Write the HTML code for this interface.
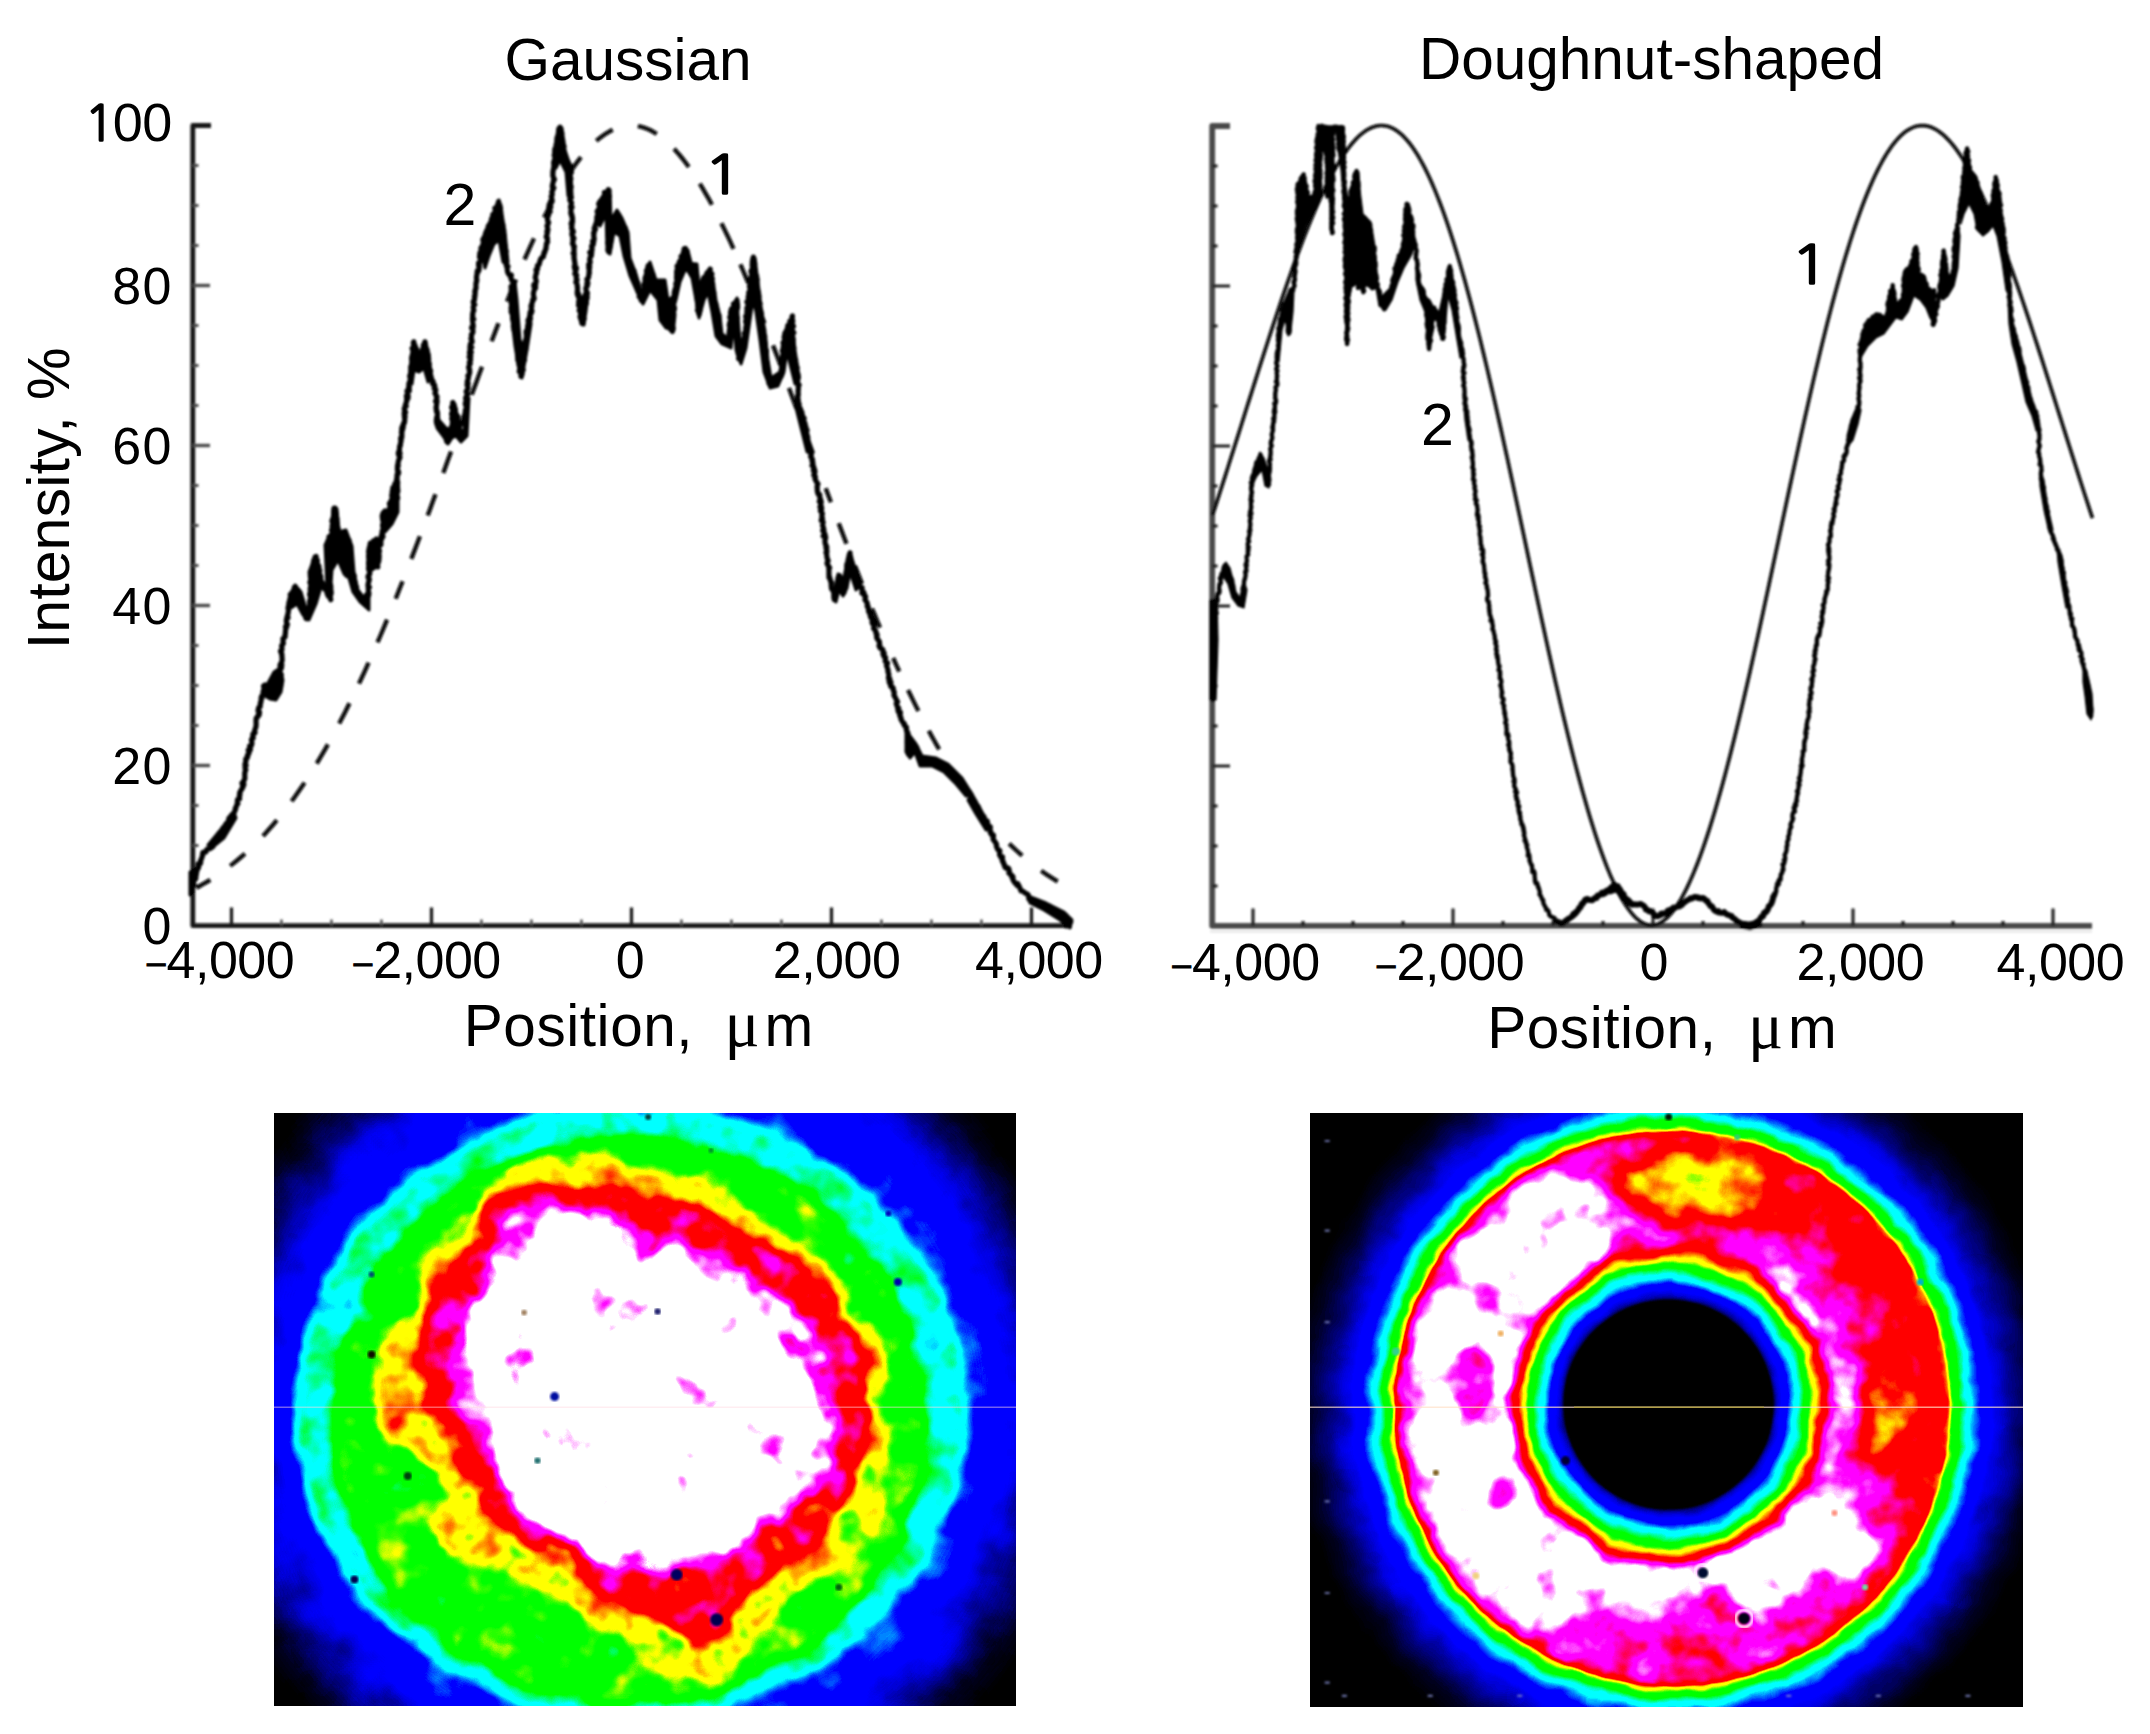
<!DOCTYPE html>
<html lang="en"><head><meta charset="utf-8"><title>Gaussian and doughnut-shaped beam profiles</title>
<style>html,body{margin:0;padding:0;background:#fff}body{width:2150px;height:1734px;overflow:hidden}svg{display:block}text{font-family:"Liberation Sans", sans-serif;fill:#000}text.sf{font-family:"Liberation Serif", "DejaVu Serif", serif}.ng{font-family:NanumGothic,"Liberation Sans",sans-serif}</style>
</head><body>
<svg width="2150" height="1734" viewBox="0 0 2150 1734" role="img" aria-label="Beam profiles: Gaussian and doughnut-shaped">
<defs>
<filter id="soft" x="-2%" y="-2%" width="104%" height="104%"><feGaussianBlur stdDeviation="0.85"/></filter>
<filter id="fcG" x="244" y="1083" width="802" height="653" color-interpolation-filters="sRGB" filterUnits="userSpaceOnUse">
<feGaussianBlur in="SourceGraphic" stdDeviation="5.5" result="g"/>
<feTurbulence type="fractalNoise" baseFrequency="0.024" numOctaves="3" seed="7" result="t"/>
<feColorMatrix in="t" type="matrix" values="1 0 0 0 0  1 0 0 0 0  1 0 0 0 0  0 0 0 0 1" result="n"/>
<feComposite in="g" in2="n" operator="arithmetic" k1="0.62" k2="0.75" k3="0" k4="0" result="v"/>
<feComponentTransfer in="v"><feFuncR type="table" tableValues="0 0 0 0 0 0 0 0 0 0 0 0 0 0 0 0 0 0 0 0 0 0 0 0.2 0.6 1 1 1 1 1 1 1 1 1 1 1 1 1 1 1 1 1 1 1 1 1 1 1 1 1 1"/><feFuncG type="table" tableValues="0 0 0 0 0 0 0 0 0 0 0 0.333 0.667 1 1 1 1 1 1 1 1 1 1 1 1 1 1 1 0.75 0.5 0.25 0 0 0 0 0 0 0 0 0 0 0 0 0.25 0.5 0.75 1 1 1 1 1"/><feFuncB type="table" tableValues="0 0 0 0.125 0.375 0.625 0.875 1 1 1 1 1 1 1 1 1 0.667 0.333 0 0 0 0 0 0 0 0 0 0 0 0 0 0 0 0 0 0 0 0.25 0.5 0.75 1 1 1 1 1 1 1 1 1 1 1"/></feComponentTransfer>
</filter>
<filter id="fcD" x="1280" y="1083" width="773" height="654" color-interpolation-filters="sRGB" filterUnits="userSpaceOnUse">
<feGaussianBlur in="SourceGraphic" stdDeviation="1.2" result="g"/>
<feTurbulence type="fractalNoise" baseFrequency="0.024" numOctaves="2" seed="11" result="t"/>
<feColorMatrix in="t" type="matrix" values="1 0 0 0 0  1 0 0 0 0  1 0 0 0 0  0 0 0 0 1" result="n"/>
<feComposite in="g" in2="n" operator="arithmetic" k1="0.1" k2="0.95" k3="0" k4="0" result="v"/>
<feComponentTransfer in="v"><feFuncR type="table" tableValues="0 0 0 0 0 0 0 0 0 0 0 0 0 0 0 0 0 0 0 0 0 0 0 0.2 0.6 1 1 1 1 1 1 1 1 1 1 1 1 1 1 1 1 1 1 1 1 1 1 1 1 1 1"/><feFuncG type="table" tableValues="0 0 0 0 0 0 0 0 0 0 0 0.333 0.667 1 1 1 1 1 1 1 1 1 1 1 1 1 1 1 0.75 0.5 0.25 0 0 0 0 0 0 0 0 0 0 0 0 0.25 0.5 0.75 1 1 1 1 1"/><feFuncB type="table" tableValues="0 0 0 0.125 0.375 0.625 0.875 1 1 1 1 1 1 1 1 1 0.667 0.333 0 0 0 0 0 0 0 0 0 0 0 0 0 0 0 0 0 0 0 0.25 0.5 0.75 1 1 1 1 1 1 1 1 1 1 1"/></feComponentTransfer>
</filter>
<filter id="nzD" x="1260" y="1063" width="813" height="694" color-interpolation-filters="sRGB" filterUnits="userSpaceOnUse">
<feGaussianBlur in="SourceGraphic" stdDeviation="1.5" result="g"/>
<feTurbulence type="fractalNoise" baseFrequency="0.03" numOctaves="3" seed="11" result="t"/>
<feColorMatrix in="t" type="matrix" values="1 0 0 0 0  1 0 0 0 0  1 0 0 0 0  0 0 0 0 1" result="n"/>
<feComposite in="g" in2="n" operator="arithmetic" k1="0.36" k2="0.82" k3="0" k4="0"/>
</filter>
<clipPath id="clipG"><rect x="274" y="1113" width="742" height="593"/></clipPath>
<clipPath id="clipD"><rect x="1310" y="1113" width="713" height="594"/></clipPath>
</defs>
<rect width="2150" height="1734" fill="#fff"/>
<g filter="url(#soft)">
<g stroke="#161616" fill="none" stroke-linecap="butt">
<path d="M211 125.5H192.8V925.7H1072" stroke-width="4.8" stroke-linejoin="round"/>
<path d="M192.5 285.5H210" stroke-width="3.4" stroke="#4a4a4a"/>
<path d="M192.5 445.5H210" stroke-width="3.4" stroke="#4a4a4a"/>
<path d="M192.5 605.5H210" stroke-width="3.4" stroke="#4a4a4a"/>
<path d="M192.5 765.5H210" stroke-width="3.4" stroke="#4a4a4a"/>
<path d="M192.5 885.5H198.5M192.5 845.5H198.5M192.5 805.5H198.5M192.5 725.5H198.5M192.5 685.5H198.5M192.5 645.5H198.5M192.5 565.5H198.5M192.5 525.5H198.5M192.5 485.5H198.5M192.5 405.5H198.5M192.5 365.5H198.5M192.5 325.5H198.5M192.5 245.5H198.5M192.5 205.5H198.5M192.5 165.5H198.5" stroke-width="3" stroke="#4a4a4a"/>
<path d="M231.5 925.5V907.5M431.5 925.5V907.5M631.5 925.5V907.5M831.5 925.5V907.5M1031.5 925.5V907.5" stroke-width="3.2"/>
<path d="M281.5 925.5V919.5M331.5 925.5V919.5M381.5 925.5V919.5M481.5 925.5V919.5M531.5 925.5V919.5M581.5 925.5V919.5M681.5 925.5V919.5M731.5 925.5V919.5M781.5 925.5V919.5M881.5 925.5V919.5M931.5 925.5V919.5M981.5 925.5V919.5" stroke-width="2.6" stroke="#555"/>
</g>
<path d="M196.4 887.8 L199.2 886.3 L202 884.7 L204.7 883.1 L207.5 881.5 L210.3 879.8M230.2 865.9 L233.1 863.6 L236.1 861.2 L239 858.8 L242 856.3 L244.9 853.7M263 835.9 L265.8 832.9 L268.6 829.8 L271.3 826.7 L274.1 823.5 L276.9 820.1M291.6 801.3 L294.2 797.7 L296.8 794 L299.4 790.3 L302 786.5 L304.6 782.6M316.7 763.5 L319.5 758.9 L322.3 754.1 L325.1 749.3 L327.9 744.4M339.2 723.6 L341.8 718.6 L344.4 713.6 L346.9 708.5 L349.5 703.3M359 683.6 L362.2 676.8 L365.4 669.8 L368.6 662.7M377.5 642.4 L380.7 635 L383.9 627.4 L387.1 619.7M395.7 598.7 L399.1 590 L402.6 581.3M411.3 558.9 L414.2 551.4 L417 543.9 L419.9 536.3M427.7 515.4 L430.3 508.4 L432.9 501.3 L435.5 494.3M443.3 472.9 L445.9 465.8 L448.5 458.6 L451.1 451.4M457.5 433.8 L460 426.9 L462.5 420 L465 413.1M471.7 394.7 L474.3 387.7 L476.9 380.7 L479.4 373.7 L482 366.8M491.6 341.2 L495.1 332.1 L498.5 323.2M507 301.6 L510 294.1 L513 286.8 L516 279.5M524.5 259.5 L527.7 252.3 L530.8 245.3 L534 238.4M544 217.6 L547 211.8 L550 206 L553 200.4M570.3 171.8 L573 167.9 L575.6 164.2 L578.3 160.6 L581 157.2M596.3 140.9 L599 138.6 L601.8 136.5 L604.5 134.5 L607.2 132.8 L610 131.2 L612.7 129.8M637.8 126.1 L640.5 126.7 L643.2 127.4 L645.9 128.3 L648.7 129.5 L651.4 130.8 L654.1 132.3 L656.8 133.9M674.1 148.8 L677 152.1 L680 155.5 L682.9 159.1 L685.9 163 L688.8 167M699.8 183.6 L702.8 188.6 L705.8 193.8 L708.9 199.2 L711.9 204.7M721.4 223.2 L724.4 229.4 L727.5 235.7 L730.5 242.2 L733.5 248.8M740.4 264.4 L743 270.5 L745.6 276.6 L748.2 282.8M757 304.3 L759.5 310.6 L762 316.9 L764.5 323.3M773 345.4 L775.5 351.9 L778 358.6 L780.5 365.2M789 388.1 L791.5 394.9 L794 401.7 L796.5 408.5M806 434.4 L809.5 444 L813 453.6M825.7 488.3 L828.3 495.3 L830.9 502.3M838.7 523.2 L841.3 530.1 L843.9 537 L846.5 543.8M855 565.9 L858.5 574.8 L862 583.7M872 608.5 L874.7 614.9 L877.3 621.3 L880 627.7M893.2 658 L896.2 664.8 L899.3 671.5M908 690 L910.6 695.3 L913.2 700.6 L915.8 705.9 L918.4 711M928.8 730.8 L931.4 735.6 L934 740.3 L936.6 744.9 L939.2 749.4M950 767.4 L952.8 771.8 L955.5 776.1 L958.2 780.3 L961 784.4M970 797.3 L972.8 801.1 L975.5 804.8 L978.2 808.4 L981 811.9M1009.2 843.6 L1011.8 846.2 L1014.4 848.6 L1017 851 L1019.6 853.4 L1022.2 855.7M1041.2 870.7 L1044 872.7 L1046.7 874.6 L1049.5 876.4 L1052.2 878.2 L1055 879.9 L1057.7 881.5" fill="none" stroke="#0a0a0a" stroke-width="4.4" stroke-linecap="butt"/>
<polyline points="192.1,889 192,887.5 192.7,886 193.7,882.3 192.8,883.4 193.7,879.5 195.8,878.7 195.8,877 195.8,874.1 196.3,875 196.4,872 197,871.3 197.9,867.2 198.6,867.6 198.2,863.9 200,863.9 200.2,863.8 200.7,862.4 200.6,860.4 201.3,859.2 202.8,854.6 202.5,854.5 202.9,852.3 205.9,851.9 206.4,850.2 207.4,849.2 208.2,848.8 209.9,848.7 211.4,847.6 212.9,846.6 213.8,842.4 214.6,842.4 216.4,842.6 217.4,839.7 218,836.9 219.3,836.7 219.1,833.4 221.3,835.2 221.5,832 221.5,831.7 223,828 223.6,828.9 225.8,824.9 226.1,823.6 227.2,823.2 228.4,824.2 228.4,822.9 228.9,818.3 230.4,816.7 230.4,816.7 232.1,814.5 231.7,815.7 233.6,813 233.8,813.1 235.6,809.4 235.2,808.4 236.1,807.1 236.5,805.6 237.9,803.6 237.3,802.8 237.5,799.7 239.6,798.9 239.3,795.5 239.7,795.7 240,794.4 239.6,793 241.4,789.4 241.9,789.3 242.5,787.3 243,787.1 242,783.1 243.9,784.8 243.4,781.4 244.6,779.3 244.9,778.4 244.7,776 244.8,775.3 244.7,772.8 245.8,769.8 245.4,770.6 245,767 246.1,765.3 244.9,764.3 246,761.4 245.7,761.1 245.8,758.9 247.4,757.7 248,755.1 247.4,755.3 249.1,753 248.2,750.2 249.3,748.8 250.4,749.6 249.6,746 251.4,745.7 252,743 251.8,742 251.4,739.7 253.2,738 252.5,737 253.1,735.3 254.5,732.8 252.9,734.1 255.1,732.7 254.5,731 255.9,726.7 255.9,727.4 256.1,724.7 256.1,723 256,720.8 256.2,718.2 257.4,717.3 258.2,714.8 258.8,715.5 259.2,714.6 259.5,711.9 258,710.8 258.7,707.6 260.1,706.8 259.9,706.6 260.7,702.8 260.3,703.1 261.1,701.2 261.2,697.4 262,698 261.6,696.3 263.5,694.7 263,692 264.2,688.5 264.3,689.8 263.5,685.9 265,685 265.3,686.6 266.3,687.9 267.8,687.7 268,691 268,691.2 269.2,692.4 272,696.8 272,697 271.6,695.3 272.6,693 273.2,692.5 274.2,689.8 273.8,688.1 275,687 274.1,685.6 275.3,683.3 273.9,681 274.5,680.9 275.3,678.4 275.3,677.7 274.4,675.2 274.5,674 274.9,676.4 275.2,678 275.7,678.1 276.2,681.4 275.7,682.1 277,684 278.1,687.4 279.5,688 280.6,685.8 280.7,685.6 279.5,682.7 279.4,682.3 280.7,680.8 281.2,678.3 280.7,676 281.3,674.6 279.9,673.1 279.8,669.8 281.5,667.9 280.1,666.4 281.8,665.1 280,665.9 280.3,664.2 281.5,662.6 282.2,660 281.9,656.5 281.9,656.5 281.8,653.5 281.9,654.8 280.5,651 281.5,650 282,649.6 281.6,645.6 282,645.6 283.4,643.2 282.9,641.6 283.2,640.1 282.9,638.7 285.2,636.8 285,634.3 285.2,634.8 285.5,632.4 285.4,631.2 285.8,629.1 286.9,626.2 285.4,626.8 287.4,624.3 286.6,623.4 286.3,620.2 286.6,619.7 287,616.8 288.1,617.8 287.5,615.3 287.9,614.2 288.5,610.5 288,608 288.8,607.7 288.4,606 289.3,604.9 289.1,604.2 288.8,603.2 289.7,600.1 289.8,599.2 290.7,596.4 290.2,594.5 291.2,593.7 293.1,591 293.8,591.5 294.3,587.3 295.4,586.7 295.6,589.1 297.3,591.6 298.4,590.6 297.7,592.3 298.4,595.5 300.6,597.8 300.6,598 300.5,600.9 301.1,600.9 302.5,601.3 301.6,605.6 302.5,605.5 303.5,608.2 302.8,608.6 304.2,610.7 304.1,612.7 306.2,613.6 305.8,614.2 305.7,617.8 306.6,618.8 306.1,618.5 308.1,613.9 308.5,613.2 308.4,612.9 307.7,610.9 308.8,609.6 308.3,607.8 310.1,605.7 309.5,602 309.7,601.2 310,600 310.5,599 310.3,595.5 310.5,595.5 309.6,594.7 310.7,590.3 311.3,588.7 310.1,589.1 310.7,586.9 310.9,584.8 310.3,582.2 309.8,582.4 311.3,580.2 311.4,577.8 310.4,576.2 311,575 312.3,571.7 311.9,570.7 313,569.4 312.5,567.9 313.4,567.6 313.5,566.2 313.4,562.4 313.8,560.2 315.8,560.7 315,557.1 316.1,556.5 316.2,559 317.4,560.6 317.2,560 317.1,561.8 317.7,564.8 317.3,565.2 318.9,566.1 319.2,570.8 319.8,570.5 319.3,572.9 319.8,575.9 320.2,575.1 320.9,577.3 320.4,579 321.4,581.2 320.8,582.8 322.9,583.3 323.4,584.6 323.4,586.3 324.8,587.6 324.6,589.1 326.6,590.4 327.2,593.8 328.6,592.3 329.2,595.6 328.3,596.2 329.5,596.7 330.8,599.7 330.8,599.6 330.2,597.7 330.9,593.4 331.2,593.5 331.2,592.2 330.7,589.2 330.8,589.7 330.8,586.3 330.5,584.8 329,581.6 328.8,580.5 328.9,579.9 329.9,578.4 329.2,577.1 328.9,574.8 329.8,572.9 328.4,573.1 329,570 329.4,567.9 328.6,566.9 329,564.2 327.7,562.5 329.3,560.7 328.6,559.2 328,557.5 328.3,555.9 327.5,554.1 327.7,553.9 327.4,550.6 328.2,550.3 328.7,547.4 328,547.1 327.1,547.5 327.5,542.8 328,541.4 328,541 329.2,539.1 329,536.7 331.3,536.2 331.7,535.7 332.5,533.9 332.9,531.7 331.6,530 333,529.6 332.1,526.1 333,527.6 333,522.5 331.9,521.2 332.4,519.4 332.3,520 334.2,516.7 334.6,516.1 334.3,516 334.8,511.2 333.6,511.6 335.1,508.1 334.3,508 334.1,510.9 334,510.9 334.7,513.5 336.2,513.3 336.1,517 336.5,518 337,518.9 336.1,520.1 337.2,522.6 336.3,523.1 337.6,526.3 337.8,527.1 337.6,527.9 338.3,529.1 338,533.4 338.7,532.6 338.6,535.7 340.1,536.4 343,535.9 344.7,534 346.2,535.4 346.9,537.9 346.3,538.1 346.4,539.8 349,540.2 348.8,541.8 348.5,545.3 349.5,544.6 350.7,547.8 349.7,549.9 350.4,549.3 349.5,554.4 349.2,554.5 349.4,557 349.6,558.6 349.3,558.1 348.3,559.3 349.4,561.1 347.5,565.8 347.7,567.1 347.2,567.2 347.3,570.2 347.9,571.1 348,573.6 346.9,574.2 347,575.5 348.5,573.7 350.9,575 352.4,573.2 353.3,573.8 353.6,575.4 354.3,575.7 353.7,578.9 353.4,580.9 355.1,582.2 355.2,584.6 354.5,585.4 356.5,587 355.5,587.9 355.9,591.1 356.3,591.5 358.9,595 359.8,597.5 360.3,598.9 361.1,598.9 362.5,597.6 364.7,598.3 366,595.8 366.9,594.5 368.7,595.3 368.9,592.8 368.5,592.7 368.2,588.1 369.4,587.2 368.9,586.8 367.9,585.6 368.4,582.8 368.6,582.3 369.4,579.1 368,577.5 368.7,575.1 368.2,575.9 369.3,575.1 369.9,573.1 368.6,568.9 368.5,568.4 368.9,566.9 369,565.5 368.7,565 368.6,562 370,561.6 368.8,558 370,555.5 368.6,555.8 369.5,552.9 368.6,551.4 370.2,550.8 370.7,550.3 370.8,546 369.8,546.1 370.3,543.2 372,543.2 372.3,542.8 373.5,540.8 375,541.4 376.7,539.2 376.6,540 375.8,542.2 377.1,544.7 377.8,546.8 376.4,546 377.5,550 377,551.8 377.2,551.4 376.4,552.1 377.5,556.9 378.1,557 377.6,560.3 378,560.8 377.2,562.1 376.7,562.5 377.8,567 377.5,566.9 377.7,565 377.5,563.5 378.6,561.9 379,559.3 377.8,559 378.1,558.6 379.2,557.3 378.9,552.4 378.9,552.7 378.9,550.1 379.5,550.8 378.3,548.3 379.3,546.1 379.4,544.6 380.9,544.6 380.8,540.3 381.8,538.7 381,539.4 381.2,535.8 383,536.7 382,533.1 382.3,530.6 382.7,532.1 383.6,528.8 382.6,526.1 382.8,523.8 383.5,524.5 384.1,522.3 384,518.4 382.7,520.1 382.2,515.8 383,514.1 383,513.2 385,511 386.3,513.7 388.8,511.5 388.4,511.3 388.8,510 390.2,507.1 389.4,503.4 391.1,502.2 390.2,502.9 392.1,498.5 392.6,498.6 391.7,495.4 392.1,497 392.2,492.2 392.3,490.6 393.1,491.8 392.8,487.6 395,488.8 395.5,484.5 394.8,483.8 394.7,487 395.1,487.8 394.9,486.9 395.2,491.2 396.3,492.1 395.8,493.7 395.9,495.3 397,495.7 396.6,499.9 396.6,500 397.4,497.2 397.7,497.9 396,494.2 396.2,491.7 397.9,491.4 397.7,488.6 395.9,489.7 397.6,488.5 397.5,485.1 397.7,481.9 397.2,481.5 396.4,480.4 396.9,478.4 397,476.1 397,475.4 397.4,473.4 398.6,473.3 398.5,471.3 397.4,470.2 397.5,465.5 398.2,466.1 398,464.1 398,463.7 398.5,460.3 398.8,460.1 400,457.2 399,455.9 398.3,453.6 400.1,453.2 398.6,451.9 399.4,450.7 399.6,446.3 400,445.7 400.4,445.5 400.4,443.8 401.2,440.4 400.6,439.3 401,437.2 401.8,437.5 401.9,433.2 401.4,432.4 402.5,430 401.6,429.1 402.3,426.4 403.1,428 403.3,425.8 403.5,423.3 404.4,422.9 404.8,419.9 404.5,417.1 405.1,416.5 404.4,416.7 404.2,412.6 405.6,412.5 404.2,408.8 405,407.1 406.2,406.2 405.2,405.3 405.9,403.9 406.1,402.5 406.7,401.5 406.6,397.8 408.1,398.4 406.4,395.9 408.2,396.2 407,391.1 408.2,391 409.4,390.8 408.5,387.7 409.4,387.8 408.8,384.4 408.9,383.7 409.1,383.2 410.4,380 410.6,378.6 409.8,375.7 410.8,376.3 411.1,372.6 412.2,372.3 411.3,369 411,369.8 410.8,366.8 412,364.5 412.4,364.9 412.8,362.6 411.5,358.5 412.1,357.7 411.7,358.1 411.9,356.2 413.6,352.1 413.7,351.4 412.4,349 412.1,348.4 413,348 414.1,343.5 413.3,343.1 413.7,341.8 413.5,342.5 414.2,345.7 414.9,345.2 415.1,348 416.4,348.8 417.2,350.3 417.6,353.3 417.1,355.4 418,356.3 419,358.2 419.2,357.7 419.8,360.9 420.9,360.6 420.6,358 420.6,357.6 421.9,353.5 422.7,354.7 422.1,353.1 422.8,348.6 423.7,347.6 424.2,346.9 423.3,345.1 425.3,343.3 425,341.8 425.4,344.7 425.5,344.9 426,347.7 425.5,346.7 427,349.9 426.3,352.7 427.8,353.1 428.4,355.7 428.1,355.3 426.8,358.3 428.7,358.7 428.4,361.1 428.2,363.1 429.2,363.6 428.5,365.8 429.2,368 429.2,368.4 429.5,370 430.6,370.5 429.8,373.5 430.4,375.2 430.6,375.3 431.7,379.8 431.9,379.9 433.1,381.5 432.5,381.5 432.6,384 434.5,384.8 434.9,387.7 434.2,388.5 435.8,389.8 435.3,392.6 434.9,393.1 437,396.8 436.4,397.3 437,400.4 435.6,401.3 437.1,401.2 436.5,405.5 436.3,406.4 436,407.7 436.2,408.7 436.5,411.7 437.4,412 437.3,413.3 437.6,414.4 437.1,417.2 436.8,416.9 436.3,420.6 436.5,422.7 437.2,425 437.2,425 439.4,427 439.8,425.7 441.7,429.3 443.9,428.5 443.7,432.5 445.9,431.9 446.7,433.6 447,434.1 446.8,437.7 447.3,437.6 446.5,441 447.6,442.3 449,439.5 447.8,437.8 450.1,437.4 450,438.1 450.9,434 451.7,431.6 451.9,431.9 451.5,431 451.3,427 452.1,426.4 453.1,423.9 452.8,423.3 452.9,421.9 452.6,419.8 451.7,418.7 453,416.6 451.8,415.3 451.6,413.3 452.7,412.5 452.8,409.9 451.6,407.3 452.3,406.3 452.8,404.9 453.3,404.5 452.8,402.5 453.7,405.1 453.8,405.7 453.9,406.1 455.4,409.4 454.4,412.7 456,413.3 456.3,414.6 456.5,414.9 458,416.6 456.9,421.2 456.7,421 457.8,421.7 459.1,423.9 457.4,425.8 457.7,428.2 459.9,430.5 458.4,431.3 459.3,432.2 459.6,433.2 459.5,435.9 460.6,437.1 460.6,437.4 461.3,436 462.5,431.5 464.6,431.7 464.9,430.2 465.6,428.6 465.4,425.4 465.5,425.3 466.2,421.8 464.4,422.6 466.3,420 466,418.9 465.3,416.9 465.9,413.7 465.3,414.6 465.3,412 465.4,409.9 466.3,409.7 467.1,407.1 465.5,404.9 465.3,402.9 466.5,402.6 465.9,399.4 465.6,397.8 466.6,397.3 466.8,394.8 467.7,394.3 466.7,392.1 466.2,391.6 467.9,388.6 468,386.7 467,384.9 467.1,384.6 468.2,383.4 467.2,381.9 468.2,378.9 468.4,377.4 467.9,375.7 469,375.2 469.7,371.7 469.8,372.2 469.1,369.5 469.7,369.6 468.6,367.2 470.3,363.2 469.8,364.5 469.3,362.5 470.7,359.4 469.2,356.9 470.8,356 469.8,354.5 471.3,352.1 469.4,353 470.2,349.3 471.7,347.3 469.9,347.8 470.4,343.8 472,342.2 472.1,340.9 470.9,338.8 471.5,338.4 471.4,336.6 471.7,334.9 471.4,334.5 472.9,332.5 472.8,328.4 471.7,327.2 471.6,328.3 473.3,326.5 472.7,322 472.5,320.1 473.7,319.2 472.5,320 472.4,318.3 472.8,315.7 472.5,314.9 473.2,311.3 473.9,310.5 473.1,307.2 474,305.2 474.7,304.7 473.3,303 473.3,301.3 474.3,300.3 474.6,298.3 474.4,296.3 474.9,296.4 475,294.7 475.3,290.7 474.8,291.7 475.7,288.3 476,288.4 475.9,285 476.1,282.1 476.6,282.1 476.7,280.4 476.9,279.7 476.5,279 476.5,276.9 476.9,275 477.3,270.8 478.1,271.9 478.9,270.4 479.4,265.7 478.6,265.7 478.6,262.7 479.8,262.3 480,261.9 480.9,259.8 480.9,257.7 479.5,257.3 479.9,252.8 481.8,251.9 481.7,249.3 481,250.2 481,247.8 483.2,245.1 483,245.4 483.1,243.8 483.6,239.5 482.8,239.8 483.8,238 485.5,235.4 485.4,233.6 486.6,233.2 486.6,232.4 486.5,231.1 488.6,230 488.2,226.2 488.6,227 489.9,223.7 490.7,222.5 491.3,221.6 491.5,218.7 493.1,218.7 492.7,214.6 494.6,215.3 494.5,212.6 495.9,211.1 494.9,208.3 495.8,208.5 496.4,208.1 497.6,204.7 498.2,203.7 498.5,201.7 499,203.3 499.1,204.9 500,205.4 500.2,207.4 500.6,208.3 500.1,211.2 500.8,212 500.1,213.3 501.1,216.5 500.1,216.7 500.8,221.2 501.6,221.4 501.5,223.3 502.9,225 501.5,225.8 502.8,227.6 502.9,227.6 503.7,230.3 502.8,233 503.6,234.2 504.3,236 503.4,236 504,238.7 504.1,240.3 503.1,240.8 503.6,242.7 505.2,246.1 504.1,248.2 505.1,247.6 505.5,249.8 506.2,251.2 504.8,253.2 506.2,256.9 505.7,256.2 505.5,259.8 504.9,262.2 506.7,263.9 506.6,264.5 506.3,265.7 508,266.4 507.1,267.5 507.5,271.5 507.9,272.9 509.2,274.9 510.6,275.8 511.4,275.1 510.8,277.8 511.8,280.5 513.4,282.3 513.2,283 514,285.3 512.7,286.3 513.4,289 512.5,289 512.9,290.1 513.4,291 512.8,294.3 511.7,296.3 512.2,299.3 513,299.6 512.8,302.3 511.2,303.7 512.5,305.9 512.3,305.4 511,307.9 511.5,309 511.1,311.6 512.2,313.5 511.9,313.2 513.4,316.2 512.5,317.5 512.8,319.4 513.3,319.8 514.5,323.6 514.3,323 513.3,326.3 514.9,327.7 513.9,329.6 514.8,330 515.2,331.9 515.5,334.6 516.5,334 515.9,338.6 516.3,338.9 517,338.6 517.1,342.4 516.7,343.6 517.1,344.6 517.4,345.5 517.4,347.6 518.5,351.3 517.7,352.7 517.7,353.5 517.5,356.4 519,357.7 517.7,359.5 517.8,360.2 519,360.1 519.1,364.7 519.8,364.3 520.4,366 520.8,367.8 519.2,371.5 519.4,370.6 521.2,371.7 520.9,376.1 521,376.4 521.4,374.2 522.1,374.3 521.9,372 521.6,369.6 523.3,370 521.4,365.6 522.2,366.1 522.4,362.2 523.9,360.6 524.6,360 524.6,359.7 523.4,357.9 524.1,354.3 523.6,354.4 524.9,351.3 525.8,349.3 525.3,348.8 525.4,345.7 525.3,347 525.9,342.7 525.5,342.9 525.7,342.2 525.5,340.5 526.9,338.7 526.5,334.4 526.3,334.8 526.1,331.3 528,332.5 528.3,330.7 527.8,329.3 527.9,326.3 528.7,324.9 528.4,321.3 528,320.5 529.1,318.4 530.5,318.5 530.4,318 529.6,316.3 531.5,312.5 530,312.8 532,311.1 531.3,308.8 531,305.8 531.9,306.1 531.6,305.1 531.8,303.6 533.1,300.3 532.7,299.8 534.2,298.6 533.6,296.1 533.5,294.9 533.3,293.4 534.5,288.8 535.5,288.1 533.8,286.3 533.9,284.7 535.6,285.6 535.6,283.5 536.3,281.3 535.5,278 535.2,277.4 535.5,276.4 536,274.2 536.7,272.8 536,269.8 537.4,268 537.6,269 537.4,265.7 537.9,265.9 539.1,264.4 539.6,262.3 540.7,258.8 541.1,258.8 541.7,257.6 543.4,256.7 543.9,252.9 544.4,253.2 545.6,249.5 544.7,251.6 546.1,248.4 545.9,247.5 546.5,244.7 546.3,243.7 547.6,241.9 547.3,239.5 547.3,238.9 547.5,238.2 546.2,236.9 547.5,232.7 547.3,230.5 546.9,231.5 548,229.9 547,225.6 547.6,225.3 548.4,223 548.6,222.3 547.7,221.4 547.4,219.1 547.8,215.4 548.5,215.5 548.7,213.8 549.2,211.7 550.2,211.6 548.8,207.2 550.8,207 549.2,204.5 550.7,202.9 550.3,203.1 550.5,201.4 552.1,200.3 551.7,198.1 551.2,196.5 552.2,194.7 552.2,193.7 551.8,191.9 553.8,187.8 553,187.9 552.5,188 552.3,185.7 553.4,181.4 553.6,179.5 554.2,179 554.4,179.4 552.8,176 552.9,175.6 552.9,171.5 553,172.7 553.3,169.1 553.9,168.3 553.9,168.1 553.8,164.7 555,162.3 553.6,162.7 554,161.3 555.2,157.8 554.2,155.2 555.4,154.7 554.7,153.3 554.7,150.5 554.8,151.4 554.9,148.6 556.3,146.9 556.3,144.8 556,144.7 557.8,142.2 556.8,141.8 557,137.5 558.2,138.2 558.4,134 559.6,132.6 558.6,133.9 559.9,131.5 558.7,130.2 559.9,127.3 560,127.2 561.1,132.1 559.7,132 561.9,133.2 560.8,136.4 561.4,138.8 562.6,140 562.5,139.2 562.8,142.2 562.6,143.8 562.5,144.1 564.1,146.3 562.6,150.1 563.8,150.7 563.7,150.4 564.3,153.3 564.5,156.1 565,157.9 565.7,159.4 566,159.3 566.5,159.8 567.9,162.1 568.6,163.1 568.7,165.1 570.6,165.7 570.3,168.8 570.1,171.7 570.5,171.2 571.4,172.3 569.5,173.6 570.2,178.2 569.8,177.8 570.9,178.7 569.3,182.4 569.4,183.6 569.5,185.5 571.1,186.6 569.8,188.8 570.7,188.4 569.7,191.2 570.3,192.4 570.6,194 570.3,196.5 571.3,197.6 569.9,198.2 569.8,200.3 571.6,202.7 570.7,206.3 572,207.2 570.5,207.2 571.2,208.6 571,210.1 570.8,213.6 571.7,214.1 571.6,216.4 572.1,215.9 572.6,219.1 571.6,222.5 572.6,221.9 571.1,223.8 572.1,225.2 571.5,227.6 572,229.9 572.7,229.8 573.4,232 571.9,233 572,235.2 573.9,238.6 573.5,237.4 572.7,239.2 573.1,242.4 572.4,243.5 573.4,245.7 574.4,246.4 573.8,248.4 574.1,249.2 574,252.1 573.2,253.3 574.3,253.7 573.9,257.6 574.2,256.9 574.2,259.7 574.6,260.7 574.6,261.8 575.1,264.8 574.3,266.4 574.9,269.4 576.4,267.9 576,270.3 574.8,273.8 576.7,275.1 576.2,277.4 576.2,277.9 576.5,280.2 577.1,279.8 575.8,282.2 576.8,283.2 577.5,286.5 577.2,287 577.4,287.4 577.7,288.8 577.2,291.7 578.3,293.8 577.2,293.8 578.2,296.4 578.7,296.7 579.3,299.4 578.6,302.2 579.2,302.7 578.8,304.4 578.5,305.2 580.5,306.3 579.2,310.6 580,311 580.8,313.3 580.4,315.1 580,317 580.9,317.8 581.2,319.8 581.6,320.9 581.8,323.3 582.4,323.7 583.2,321 583.4,322.1 582.5,317.8 584.2,319 582.7,316.7 584.6,313.2 584.5,311.8 584.7,310.9 584.3,307.9 584.9,308.4 584.3,304.5 584.1,303.6 586.3,303.8 586.3,302.2 584.8,299.3 586.8,299.4 587.1,297.7 586.7,295.8 587.4,293 586.7,291.7 585.9,289.4 586,287.6 587.4,285.9 586.8,283.7 587.2,283.5 587.9,283.4 586.9,279.3 587.1,280.1 588.5,277.4 589,273.4 589.4,273 589,271.6 589.4,269.6 588.6,267.7 589.7,266.8 588.6,264.8 589.7,263.2 589.9,263.3 590.2,261.5 589.6,260.1 590.2,257.1 591.4,255.6 589.8,252.3 591.6,253.5 591.8,250.5 591.7,247.5 592.2,249 591.6,246 593.3,244.5 592.5,241.3 593.6,242.2 594.2,238.6 594.2,238.4 593.7,236.6 594,233 593.5,233.2 595.4,229.1 594.2,228.4 594.8,228.3 595,226.1 596.1,223.6 596.3,222.5 597.3,220.7 596.8,219.9 596.9,216.6 598.3,217 597.7,214.5 598.1,212.2 597.2,211.5 599.3,208.3 599.7,207.6 600,207.5 598.7,203.9 600.3,205 599.7,201.7 601.3,200.7 601.7,200 603.3,198.9 603.1,197.5 605.5,195.2 604.4,192.5 606.8,192 608.3,191.5 608.4,189.6 608.8,190 608.5,193.6 609.3,196 607.9,196.2 609.5,196.3 607.5,198.3 608.9,200.4 608.9,203.9 609.1,202.7 608.9,207.1 608.9,208.9 609.1,209.7 609.3,211.1 607.6,211.8 609.4,213.6 608.4,217.2 608.9,218.5 608.4,219.1 607.6,219.7 607.8,222.5 608.6,222.5 608.8,224.2 608.3,225.6 608.5,227.7 609.5,230.1 609.2,232 608.2,235.1 608.1,235.6 608.9,238.9 609,237.2 608.5,242.1 609.3,241.6 607.8,242.9 609.1,244.2 609.4,246.1 609,249.3 608,250.3 608.6,251.9 609.1,249.4 609.1,249.1 610.3,246.2 608.8,245.4 609.9,243.7 610.9,241 610.2,240.4 609.8,238.7 610.5,236.8 611.5,237.3 612.1,232.9 611.1,233.9 610.7,229.2 610.8,230.7 612,227.2 611.4,227.1 613.5,224.8 612.7,222.5 614.5,221.3 614,218.4 614.9,216.9 615.9,215.1 616,216.7 617.9,213.8 619.4,216.5 619,216.8 620.1,219.6 620.3,220.1 621.6,222.9 621.8,221.4 622.7,226.2 622.9,226.8 623.5,227.1 625.3,228.1 625.7,231.1 625.7,233 625.7,235.3 626.8,235.2 626.7,238.5 626.4,239.6 626.5,241.7 626.9,241.7 626.9,244.9 626.6,247.2 626.4,247.5 627,249.3 626.3,251.2 626.3,252.3 627.1,254.6 628.1,257.2 627.4,257.1 627.4,260.1 628.6,260.3 628.3,263.1 629.3,262.6 630.1,264 630.7,265.8 631.9,267.6 633,271.2 634,270.8 634.1,273.7 634.3,274.4 635.2,275.7 634.5,278.6 635.9,278.7 636.4,279.3 637.1,283.9 637.9,282.7 637.7,286.7 637,287.7 637.5,288 637.6,289.8 639.8,292.5 640.1,295.5 639.2,296.7 641.2,297.6 640.4,297.5 641.2,300.3 641.4,298.3 641.3,297.8 642.4,294.7 641.8,294 643.2,293 643.4,292.3 644,289.1 644.3,288.3 643.7,284.9 644.1,285.4 645.2,282.3 645.1,279.9 645.5,279.7 646.2,279.6 645,278.4 645.6,276.8 647.7,272.6 646.5,270.7 648.1,271.3 648.6,270 647.6,268.3 648.2,265.7 648.5,266.7 649.3,269.6 649.7,270.6 650.9,273.1 651.3,273.3 652.1,275 653.1,275.3 652.5,276.6 653.7,281.1 654.7,281.9 655.1,283 657.8,284.2 658.1,282 660.3,282 662.2,281.5 663.7,283 663.5,285.5 663.2,285.1 664.3,287 664.6,290.2 664.6,291.6 663.8,292.3 662.9,296.4 663.2,295 664.8,298.3 664.1,301.4 664.4,300.7 663.5,303.8 664.3,303.9 663.4,306.7 663,309.4 664,310 664.8,310.4 665.1,313.7 664.4,314.7 666.4,316.5 666.7,317.4 667.7,320.6 667.2,319.9 667.2,321.5 668,325 669,325.5 669.6,327.6 670.5,329.1 672.4,331.5 672.5,328.5 672.7,329.8 673.1,328.2 671.9,325.5 672.3,324.9 672.9,322.4 673.6,318.7 672.3,319.5 673.9,316.5 672.3,313.4 674,314.1 673.2,312.4 674.2,308.4 674.2,310.2 674.5,308.3 673.7,305.6 673.1,304.6 674.4,301.6 674.1,300.3 673.3,297.5 674.3,298.5 674.6,296.7 674.2,292.9 674.5,291.4 675.8,290 675,289.5 675.5,288.6 676.2,286.8 675.8,283.6 676,284.1 677.3,280.9 676.5,277.5 677.5,277.8 676.7,274.6 677,274.9 676.7,271.6 677.4,270.8 677.6,269.2 677.1,266 678.5,266.8 679.1,262.7 679.4,261.7 681.2,260.2 682.2,258.8 681.1,256.3 682.4,256.5 683.6,255.4 683.7,251.6 685.1,250.7 684.2,248.8 685.4,248.4 686,250.5 685.8,250.7 685.5,253.5 687.4,253.3 686.8,257.2 688.2,256.5 689.2,260.2 689,260.3 689.9,262.3 689.6,265.9 689.7,265.7 692.4,264.5 692.8,264.7 695.5,265.7 694.8,268.7 695.8,268.8 695.6,270.5 695.8,273 695.9,275.1 696.9,276.7 696.8,275.8 696.2,279.9 696.2,280.5 696,283 696.4,283 697.5,283.6 695.9,286.4 697,286.9 697,290.9 698.1,293.1 698.1,291.6 697.2,294.6 696.6,297.4 697.3,299 698.3,298.8 697.7,301.1 697.4,301.1 698.1,303.5 697.8,307.1 699,307.4 697.5,310.3 698.2,309.5 699.3,314 698.9,314.2 698.5,312.7 700,311 699,308 698.4,309 700.3,304.8 700,303.2 700.4,302.3 700.4,301.2 699.2,299.7 700.6,296.1 699.4,295.3 701,296.2 700.6,294.1 701.3,290.4 700.8,290.8 701.1,287.9 701.7,285 701.3,284.7 701.5,283 702.5,282.3 702.7,280.1 704,277.4 705.6,279.1 706,275.8 706.4,274.6 707.3,272.5 709.4,271.5 708.7,271.2 710.2,269.2 709.3,270.3 710.7,273.6 710.3,272.5 711.9,274 710.9,277.4 712.3,278.5 710.9,279.9 711.4,281 712.7,284 712.5,284.8 712.5,288.7 711.8,290.5 712.1,291.3 713.7,292 713.8,293.4 712.9,296.9 713.5,295.4 712.7,298.8 713.6,300.3 713.7,300.3 715.2,302.8 715.9,304.5 714.8,306.3 716.7,309.6 716.6,308.8 717,310.5 717.1,311.1 716.8,316 718.9,315.1 718.8,317.6 718.9,317.7 719.1,321.5 718.7,322.5 717.9,325.7 717.5,324.7 716.8,329.5 717,328.2 717.4,330.1 717.1,333.2 718.3,335.3 719.2,335.2 722.1,338 723.3,336.2 724.8,339.2 724.4,341.9 725.7,343 726.8,340.9 729.2,343.6 729.2,342.3 729.6,341.5 728.6,339.5 729.2,338.7 729.9,336.1 728.9,335.2 729.3,331 729.7,331.5 729.6,328.7 730.3,326.2 729.3,325.2 730.7,324.5 729.7,322.8 731.1,321.3 729.8,317.3 731.6,318 730.2,316.5 730.9,314.5 730.5,313 730.9,310.7 731.5,308.8 732.3,308.6 734.3,305.5 733.5,303.9 735.8,302.8 735.1,303 737,300.3 736.8,300.4 737.4,303.6 737.6,306.4 737.5,308.2 736.5,309.6 736.7,310.7 736.1,312.2 735.7,314.7 735.9,315.3 737.3,317.9 737.2,318.1 735.5,321.8 736,323 736.1,323.1 736.4,325.1 736.8,326.9 735.5,328.3 735.3,331.1 736.1,331.5 735.6,332.6 736.7,334.2 737.6,337.4 736.6,337.7 737.6,339.7 737.6,340.7 737.7,343.2 738.6,344 738.6,345.1 737.7,346.8 739.3,347.9 738.1,350.9 739.2,353.2 738.2,353.8 739.7,354.6 738.6,358.6 739.6,359.1 738.9,356 739.6,357.1 740.3,354 741.1,354.1 740.3,349.9 741.5,349.9 741.2,347.6 742.5,344.6 742.4,343 744,341.2 742.7,341.8 743.2,340 743.8,339.9 744.6,336 744.8,334.9 744.3,333.2 745.7,332.4 745.7,330 746.4,327.9 745.7,328.3 746.4,324.9 746.6,324.3 745.6,321.4 746.8,319.6 746.1,318.6 745.7,315.9 747.8,314.2 747.6,311.7 746.7,311.9 746.8,311.8 748.4,307.8 746.8,308.4 748.4,305.3 746.9,301.8 748.4,302.6 748.2,300.3 748.3,298.1 748.2,296.6 748.7,295.8 748.9,293.2 748.7,292.8 750.5,289.5 750.3,289.5 749.4,286 750.9,284.5 749.6,282.6 751.3,282.1 749.7,280.1 751.1,279.2 750.5,278.9 751.9,275.2 751.7,274.4 751.5,271.8 751,271.3 751.7,269.8 753.1,266.8 752.1,265.3 752.7,262.4 752.7,261.6 752.2,261.8 753.7,258.8 753.4,257.1 752.7,259.5 753.6,261.7 754.4,261 754.8,263.9 754.2,266.3 754.3,265.5 753.9,268.8 754.7,268.8 754.4,272.7 755.1,274.6 756.7,276.1 755.4,278.1 756.5,279.4 757.3,279.1 756.4,282.8 756.9,283 756.6,283.2 756.2,286.5 757,289.5 756.5,289.1 758.2,291.5 758.6,293.3 758.8,296.1 759,296.4 758.1,297.7 757.9,298.4 758.7,300.7 758.6,301 760.1,303.5 759.1,305.2 759.5,308.4 759.5,309 760.7,311 761,311.8 760.2,313.3 761.6,314.1 760.2,318.1 760.5,317.1 761.1,320.2 761.6,321 761.6,322.8 761.5,325.2 761.9,325.7 763.7,329.8 762.7,330.1 762.4,329.9 763.6,334.9 763.8,334.9 763.1,336.4 764.8,336.4 764.5,338.9 765,342.6 765.4,344 763.9,345.2 765.1,345.6 764.5,347.8 765.1,349.2 766.4,350.2 766.4,351.5 766.2,354.2 765.7,355.9 765.3,356.6 766,358.2 766.4,360.9 767.3,363.2 767.1,364.8 766.2,364 766.2,368.7 767.3,370.6 767.1,370.1 768,373.4 767.7,373.7 767.8,374.4 769.1,378.4 768.3,377.3 769.4,380.1 769.3,381.5 769,383.4 769.6,383.4 771.2,383.2 772.8,380.2 774,378.9 776.9,377.6 777.2,376.6 778.5,377.3 781.1,376.4 780.6,375.7 781.8,373.2 782.4,373.3 781.2,371 782.2,367.3 782.5,365.2 782.4,366.7 782.5,364.3 782.7,361.7 781.6,360 782.2,360 783.5,358.9 782.5,357.1 783.9,352.3 783.2,351 782.3,350.7 783.8,348.1 783.1,347.6 783.8,344.7 783.1,342.7 783.5,344.6 783.4,342.2 784.5,341 785,336.5 784.1,337.7 784.6,334.9 785.6,334.6 784.9,333 786.3,331.2 787.4,328 787.9,325.3 789.4,326.7 789.5,324.3 790.3,322 789.9,321.2 792.1,320.4 792.4,316.3 792.4,315.9 792,316.8 792.6,320.6 792.8,321.2 792.4,321.3 792.1,325.9 793.5,326.3 793.1,326.5 791.7,327.4 791.7,329.7 793.8,332.7 792.2,332.6 791.8,333.9 792.1,336.8 792.2,338 793.2,339.3 792.2,343.3 792.5,344.4 792.6,346.3 792,346.4 793.9,348.2 793.5,349.5 793.2,352.2 792.7,353.6 793.8,353.8 794.2,356.8 794.2,359.6 795.7,360 794.7,362.9 796,363.6 796,364.6 796.6,367.1 797.2,367.7 795.8,371.4 797.3,372.8 798,374.3 797.4,376.3 798.3,376.2 798.4,378.2 797.6,378.4 797.6,380.8 797.8,383.5 799.1,384.9 798.3,384.5 798.3,388 798.4,389 798,391.2 798.2,392.5 798.2,395.7 797.5,396 797.8,397.6 798.3,400.7 797.2,400.8 797.8,403.1 797.5,405.5 799.1,403.9 798.4,408.5 800.6,409.3 800.3,409.5 801.1,413.5 801.9,412 801.6,413.8 803.6,418.1 804.2,418.2 803.5,418.5 803.9,421.1 805,423.3 805,424.4 806.1,427.9 805.6,429.3 805.7,429 807.1,430 805.8,434.9 807,434.4 807.9,437.8 807.3,439.1 807.1,441 808,440.9 807.4,441.3 808.5,443.1 809.4,448 808.9,448.7 809.8,449.9 810.5,451 810.2,452.7 811.3,453.1 811.3,456 810.6,456.6 812.6,459.6 811.9,460.8 813,462.9 812,465.6 813.7,466.6 813.8,467.8 813.3,470.6 814.5,469.2 815,471.8 813.8,475.1 814.5,475 815.4,476.9 814.9,478.6 816.1,481.2 817.4,483.1 817.1,482.9 818,483.9 817,486.7 817.4,488.3 817.2,488.7 817.3,491 818.1,494 818.5,493.3 819.8,494.9 819.7,497.6 820.6,499.3 819.3,501.6 821.3,501.8 820.6,504.3 821.6,507.5 819.9,507 821.7,508.8 821.2,510.9 820.3,510.7 822.4,513.6 821.7,515.8 822.5,518.7 821.3,519.4 821.3,520.7 823.2,522.1 822.4,525.1 823.3,527 823.1,527.1 823.4,528 824,530.3 822.7,530.6 825,534.1 823.2,536.1 825,535.2 825.7,537.3 824.9,540.8 825,541.1 825.2,543.8 826.5,546.3 826.8,547.6 825.9,547.6 827,551.3 826,552.4 826.6,553 826.5,553 827,557.7 827.3,559 828.2,560.6 827.3,562.6 827,562.8 827.2,564 829.2,567.1 829.6,567.8 828.8,568 829,572.3 828.9,573.8 829,575.2 829,577.4 829.1,575.9 830.1,579 830.6,581.6 831.2,581.8 831.6,582.7 831.1,584.6 831.2,585.3 831.5,588.7 832.6,589.6 833,591.1 833.7,591.6 834,596.4 833.9,597 835.1,596.8 834.4,599.7 833.9,598.1 835.6,596.6 835.4,594.6 835.7,594.6 835.2,592.2 835.6,591.3 836.3,589.5 836.8,587.3 837.5,586.8 837.8,583.6 838.2,581.1 839.5,579.8 838.2,577.7 839.7,578.6 839.6,575.5 840.2,578.7 839.8,580 841.4,579.2 840.3,581.5 841.4,583.3 842.4,584 841.8,585.9 842,587.9 843.3,588.8 842.7,592.1 843.9,592.8 843.2,592.5 844.5,588.6 843.4,589.2 843.6,587.3 844.9,585.4 844.4,584 844.7,581.9 846.4,580.3 844.8,577.4 845.6,577.9 846.6,574.7 846.3,573 846.3,571.2 846.5,570.3 847.8,568.3 846.7,567.6 846.8,564.2 847.7,565.2 847.8,561.7 848,561.2 848.2,559.4 849.1,556.1 849,557.3 849.1,555.5 850,553 849.5,554.5 850.6,556.7 850.1,556.4 851.4,560.8 852,562.2 852.4,564.2 851.8,565.3 852.6,564.6 853.6,566.9 855,570.3 854.3,570.3 855.3,571 854.8,573.2 855.5,574 855.8,575.7 856.6,576.8 857.2,581.4 858.8,581.7 859.7,584.5 858.3,582.8 859.4,586.1 860.3,587.6 862.1,587.5 862.1,591.8 861.9,593.2 863.9,592.4 864.1,595.3 865.1,595.7 865.6,596.8 864.9,599.8 866.3,601.4 867.3,603.2 867.2,606.6 868.1,606.4 868.5,609.4 868.5,611.2 869.1,612.6 870.1,613.2 870.2,615.6 870.6,617.1 872.1,619.1 873.3,620.4 872,622 872.4,623.6 874.6,622.8 874.2,625.7 873.6,628.4 874.7,629.6 876.2,632.1 876,633.4 877.2,634.7 876.5,636.8 877,638.4 877.4,638.5 877.1,638.7 879.4,641.6 879.4,643.3 879.8,645.1 879,645.9 880.2,648.2 881.4,648.5 882.9,649.7 883,654.1 884.2,653 883.8,656.5 885.5,657.3 885.6,657.5 885.2,661.1 885.2,661.4 887.5,662.8 887.5,663.6 886.4,665.3 887.7,668.8 888.1,671.3 888.2,670.4 887.9,671.7 888.9,674.5 888.4,678 889.8,678.6 889,679.8 889.3,682.7 890.9,681.9 890.6,686.2 892.3,687.6 891.8,686.5 893.3,688.2 893.2,690.5 894.3,692 893.9,695.3 895.2,697.4 894.5,695.9 895.9,698.8 896.7,700.4 897.6,701.9 896.2,703.5 897.1,706.2 898.7,708.1 897.7,708.6 898.3,711.7 898.6,712.1 900.3,712 900.4,713.4 899.7,715.5 901.1,717.9 900.9,719.2 902.9,722.5 902.7,722.5 904.3,723.4 904.1,725.2 906,726.7 906.5,727.5 906.2,729.5 906.7,730.6 908,733.4 907.8,736.1 908.4,738.4 907.7,737.5 907.6,739.8 907.4,742.5 908.1,741.4 908.3,744.3 907.6,745.5 908.7,749.6 908.6,748.5 907.4,750.4 907.9,752.3 908.5,754.2 909.8,752.3 910.5,753.4 913.6,751.6 914.9,749.8 915.9,748.2 916.7,747.3 917.5,750.3 918,751.8 918.2,751.9 919.1,755.6 918.3,754.7 918.2,756.7 919,758.3 920.1,761.1 921.1,760.4 922.9,762.8 924.4,759.3 927.9,760.7 929.3,760.4 929.4,759.4 933.1,759.5 933.8,760.2 935.7,761.1 937.5,761.6 939.3,762 940.2,765.8 941.7,766.7 942.2,767.4 944.4,768.8 946.1,768 947.8,768.2 949.2,769 949.9,772.2 950.4,770.8 953.1,772.4 954.2,774.5 954.2,777 955.9,775.9 958.3,779.7 958.3,780.7 959.9,780.1 960,782.6 962,782 962.5,783.7 964.1,785.5 964.5,787.8 965.2,787.1 966.5,791.3 966.9,790.6 969.3,791.6 970.3,793.6 970.3,795.7 970.5,797.9 972.9,798.5 972.4,798.7 972.7,802.2 975.2,802.2 975.4,805.3 976.8,806.4 978.1,806.3 979.1,809.1 978.6,810.8 979.4,811.2 980.7,813 982.3,815.5 982.6,816.9 984.1,816.8 983.2,820.1 984,819.8 985,821.5 987.3,821.1 987.6,823.8 988.8,826.9 989.3,826.9 990.3,826.9 990.1,829.9 990.3,832.9 991.3,832.7 991.6,834.9 993.5,835 993.4,837.3 993,839.2 994.8,841.6 996.2,843.5 996.6,845.1 996.3,845.9 997.4,848.9 998.5,849.9 998,849.8 999.8,850.4 999.5,854.9 1000,855.3 1000.8,857.3 1002.5,856.8 1002.3,861.2 1003.2,861.5 1003.8,864.6 1004.3,864.3 1004.8,867.1 1006.3,868.3 1007.5,867.7 1008.7,868.4 1009.6,872.4 1008.9,873 1009.9,874.1 1012,875.4 1011.8,877 1013,876.8 1012.9,879.7 1014.7,882.7 1016.1,884 1017.2,885.5 1017.7,883.6 1019.6,887.3 1019.5,887.1 1021.1,890.9 1022.2,890.9 1023.8,891.9 1024.8,892.8 1025.7,893.4 1027.6,894.1 1028.5,895.6 1028.9,899.2 1030.9,899.5 1033.2,900.2 1035,901.6 1035.6,902 1036,900.8 1039.2,902.5 1041.2,902.8 1041.3,903.3 1044.2,905.2 1044.3,904.1 1046.4,906.4 1048,905.4 1050.1,906.6 1051.3,909.9 1051.7,909.6 1054,909.9 1054.9,912.1 1056,911.7 1056.9,912.4 1060.4,912.5 1061.3,913 1062,914 1063.7,915.1 1065.7,915.6 1065.1,917.6 1067.4,918.9 1068.3,919 1070,919.9 1070.7,922 1068.6,922.2 1066.6,923.6 1066,926" fill="none" stroke="#000" stroke-width="5.2" stroke-linejoin="round" stroke-linecap="round"/>
<g fill="#000" stroke="#000" stroke-width="3" stroke-linejoin="round">
<polygon points="190,872 197,868 193,892 190,895"/>
<polygon points="208,845 222,828 234,812 236,818 224,838 214,846"/>
<polygon points="263,690 268,683 274,672 280,668 283,680 281,692 276,700 270,699 265,696"/>
<polygon points="289,600 295,585 301,592 307,612 311,596 309,572 315,556 319,572 322,584 316,604 309,620 303,615 297,604 291,608"/>
<polygon points="325,545 331,533 333,508 337,509 339,532 346,530 352,546 354,572 358,590 364,598 369,592 369,610 360,602 353,592 349,578 344,574 338,560 332,570 330,598 327,590 326,566"/>
<polygon points="368,548 376,538 379,546 378,566 372,570 368,566"/>
<polygon points="382,514 389,510 395,484 398,474 398,512 392,524 385,532"/>
<polygon points="481,250 485,232 491,220 497,214 499,200 502,214 505,232 508,262 503,262 499,240 494,244 489,256 485,268"/>
<polygon points="409,378 413,342 416,346 420,360 424,342 428,350 432,378 428,382 424,368 419,372 414,370 412,384"/>
<polygon points="436,398 439,420 446,428 451,430 452,403 455,404 457,416 461,434 465,428 466,398 469,398 467,436 461,442 456,436 452,438 448,444 443,436 437,428"/>
<polygon points="510,286 515,282 517,300 520,340 524,346 527,324 530,310 531,324 527,350 522,378 519,370 515,346 511,312"/>
<polygon points="555,150 558,128 562,128 565,150 571,168 572,196 568,196 566,172 560,160 556,168"/>
<polygon points="578,290 582,300 586,290 588,296 584,325 580,320"/>
<polygon points="596,222 600,200 607,190 610,190 611,220 617,210 622,218 628,232 630,258 636,274 642,296 646,270 650,262 656,280 665,280 668,300 674,296 674,330 666,328 660,320 658,300 650,290 643,304 637,292 630,276 624,256 620,236 614,232 610,254 607,250 606,214 600,226"/>
<polygon points="676,270 684,248 688,250 691,264 697,264 700,300 703,282 710,268 713,280 716,300 720,316 722,334 730,340 731,312 737,298 739,330 742,356 746,332 749,300 752,274 755,258 758,282 761,306 765,332 768,360 771,378 780,372 784,336 792,316 795,350 799,376 795,384 789,360 787,350 784,372 778,386 770,388 764,372 760,340 756,312 753,300 750,320 746,348 741,364 736,350 734,322 731,348 722,344 716,336 712,312 708,292 704,300 699,318 696,300 692,278 686,268 680,282 676,300"/>
<polygon points="797,398 803,414 808,440 811,452 807,452 801,428 796,408"/>
<polygon points="833,596 838,574 842,586 846,568 850,552 854,566 860,584 856,590 850,572 847,588 843,596 839,590 836,602"/>
<polygon points="906,730 910,736 916,744 922,756 936,758 948,764 962,778 972,794 966,796 956,784 944,772 932,766 920,766 915,752 910,758 906,752"/>
<polygon points="972,794 982,812 991,828 986,830 976,814 968,800"/>
<polygon points="1028,896 1046,903 1064,912 1072,920 1070,928 1060,920 1044,910 1030,903"/>
</g>
</g>
<g filter="url(#soft)">
<path d="M1210 931.5H2092" stroke="#e4e4e4" stroke-width="2" fill="none"/>
<g stroke="#4a4a4a" fill="none">
<path d="M1230 126H1212.2V925.8H2092" stroke-width="5.8" stroke-linejoin="round"/>
<path d="M1212.5 286H1230" stroke-width="3" stroke="#222"/>
<path d="M1212.5 446H1230" stroke-width="3" stroke="#222"/>
<path d="M1212.5 606H1230" stroke-width="3" stroke="#222"/>
<path d="M1212.5 766H1230" stroke-width="3" stroke="#222"/>
<path d="M1212.5 886H1217.5M1212.5 846H1217.5M1212.5 806H1217.5M1212.5 726H1217.5M1212.5 686H1217.5M1212.5 646H1217.5M1212.5 566H1217.5M1212.5 526H1217.5M1212.5 486H1217.5M1212.5 406H1217.5M1212.5 366H1217.5M1212.5 326H1217.5M1212.5 246H1217.5M1212.5 206H1217.5M1212.5 166H1217.5" stroke-width="3.2" stroke="#1a1a1a"/>
<path d="M1253 926V908.5M1453 926V908.5M1653 926V908.5M1853 926V908.5M2053 926V908.5" stroke-width="3" stroke="#1a1a1a"/>
<path d="M1303 926V921M1353 926V921M1403 926V921M1503 926V921M1553 926V921M1603 926V921M1703 926V921M1753 926V921M1803 926V921M1903 926V921M1953 926V921M2003 926V921" stroke-width="3.2" stroke="#1a1a1a"/>
</g>
<polyline points="1212.5,515.3 1215,507.6 1217.5,499.9 1220,492.2 1222.5,484.4 1225,476.6 1227.5,468.7 1230,460.8 1232.5,452.9 1235,445 1237.5,437.1 1240,429.2 1242.5,421.2 1245,413.3 1247.5,405.3 1250,397.4 1252.5,389.5 1255,381.6 1257.5,373.7 1260,365.8 1262.5,358 1265,350.2 1267.5,342.5 1270,334.8 1272.5,327.1 1275,319.5 1277.5,312 1280,304.5 1282.5,297.2 1285,289.8 1287.5,282.6 1290,275.5 1292.5,268.4 1295,261.5 1297.5,254.7 1300,248 1302.5,241.4 1305,234.9 1307.5,228.5 1310,222.3 1312.5,216.3 1315,210.3 1317.5,204.6 1320,199 1322.5,193.5 1325,188.2 1327.5,183.1 1330,178.2 1332.5,173.5 1335,168.9 1337.5,164.6 1340,160.5 1342.5,156.5 1345,152.8 1347.5,149.3 1350,146 1352.5,143 1355,140.1 1357.5,137.5 1360,135.2 1362.5,133.1 1365,131.2 1367.5,129.6 1370,128.3 1372.5,127.2 1375,126.4 1377.5,125.8 1380,125.5 1382.5,125.5 1385,125.8 1387.5,126.3 1390,127.1 1392.5,128.2 1395,129.6 1397.5,131.3 1400,133.2 1402.5,135.4 1405,138 1407.5,140.8 1410,143.8 1412.5,147.2 1415,150.9 1417.5,154.8 1420,159.1 1422.5,163.6 1425,168.4 1427.5,173.5 1430,178.8 1432.5,184.5 1435,190.4 1437.5,196.6 1440,203 1442.5,209.7 1445,216.7 1447.5,223.9 1450,231.4 1452.5,239.1 1455,247.1 1457.5,255.3 1460,263.8 1462.5,272.4 1465,281.3 1467.5,290.4 1470,299.7 1472.5,309.2 1475,319 1477.5,328.9 1480,338.9 1482.5,349.2 1485,359.6 1487.5,370.2 1490,380.9 1492.5,391.7 1495,402.7 1497.5,413.8 1500,425 1502.5,436.3 1505,447.8 1507.5,459.2 1510,470.8 1512.5,482.4 1515,494.1 1517.5,505.9 1520,517.6 1522.5,529.4 1525,541.2 1527.5,553 1530,564.8 1532.5,576.5 1535,588.3 1537.5,600 1540,611.6 1542.5,623.2 1545,634.7 1547.5,646.1 1550,657.4 1552.5,668.7 1555,679.8 1557.5,690.7 1560,701.6 1562.5,712.3 1565,722.8 1567.5,733.1 1570,743.3 1572.5,753.3 1575,763.1 1577.5,772.7 1580,782.1 1582.5,791.2 1585,800.1 1587.5,808.8 1590,817.2 1592.5,825.3 1595,833.2 1597.5,840.8 1600,848.1 1602.5,855.1 1605,861.8 1607.5,868.3 1610,874.4 1612.5,880.1 1615,885.6 1617.5,890.7 1620,895.5 1622.5,900 1625,904.1 1627.5,907.8 1630,911.2 1632.5,914.3 1635,917 1637.5,919.3 1640,921.2 1642.5,922.8 1645,924 1647.5,924.9 1650,925.4 1652.5,925.5 1655,925 1657.5,924.2 1660,923.1 1662.5,921.5 1665,919.6 1667.5,917.4 1670,914.8 1672.5,911.8 1675,908.5 1677.5,904.8 1680,900.8 1682.5,896.4 1685,891.7 1687.5,886.6 1690,881.3 1692.5,875.6 1695,869.5 1697.5,863.2 1700,856.6 1702.5,849.6 1705,842.4 1707.5,834.9 1710,827.1 1712.5,819 1715,810.7 1717.5,802.1 1720,793.3 1722.5,784.2 1725,774.9 1727.5,765.4 1730,755.7 1732.5,745.8 1735,735.7 1737.5,725.4 1740,714.9 1742.5,704.3 1745,693.5 1747.5,682.6 1750,671.6 1752.5,660.4 1755,649.2 1757.5,637.8 1760,626.3 1762.5,614.8 1765,603.2 1767.5,591.6 1770,579.9 1772.5,568.1 1775,556.4 1777.5,544.6 1780,532.9 1782.5,521.1 1785,509.4 1787.5,497.7 1790,486 1792.5,474.4 1795,462.8 1797.5,451.3 1800,439.9 1802.5,428.6 1805,417.4 1807.5,406.3 1810,395.3 1812.5,384.4 1815,373.7 1817.5,363.1 1820,352.6 1822.5,342.4 1825,332.3 1827.5,322.3 1830,312.6 1832.5,303 1835,293.7 1837.5,284.5 1840,275.6 1842.5,266.8 1845,258.3 1847.5,250.1 1850,242 1852.5,234.2 1855,226.7 1857.5,219.4 1860,212.3 1862.5,205.5 1865,199 1867.5,192.7 1870,186.7 1872.5,181 1875,175.5 1877.5,170.4 1880,165.5 1882.5,160.8 1885,156.5 1887.5,152.4 1890,148.7 1892.5,145.2 1895,142 1897.5,139.1 1900,136.4 1902.5,134.1 1905,132 1907.5,130.3 1910,128.8 1912.5,127.6 1915,126.6 1917.5,126 1920,125.6 1922.5,125.5 1925,125.7 1927.5,126.1 1930,126.8 1932.5,127.8 1935,129 1937.5,130.5 1940,132.2 1942.5,134.2 1945,136.4 1947.5,138.9 1950,141.6 1952.5,144.5 1955,147.7 1957.5,151.1 1960,154.7 1962.5,158.5 1965,162.6 1967.5,166.8 1970,171.2 1972.5,175.9 1975,180.7 1977.5,185.7 1980,190.8 1982.5,196.2 1985,201.7 1987.5,207.4 1990,213.2 1992.5,219.2 1995,225.3 1997.5,231.6 2000,238 2002.5,244.5 2005,251.1 2007.5,257.9 2010,264.8 2012.5,271.7 2015,278.8 2017.5,285.9 2020,293.2 2022.5,300.5 2025,307.9 2027.5,315.4 2030,322.9 2032.5,330.5 2035,338.2 2037.5,345.9 2040,353.6 2042.5,361.4 2045,369.2 2047.5,377.1 2050,385 2052.5,392.9 2055,400.8 2057.5,408.7 2060,416.6 2062.5,424.5 2065,432.4 2067.5,440.4 2070,448.3 2072.5,456.1 2075,464 2077.5,471.9 2080,479.7 2082.5,487.5 2085,495.2 2087.5,502.9 2090,510.6 2092.5,518.2" fill="none" stroke="#0a0a0a" stroke-width="3.7" stroke-linejoin="round"/>
<polyline points="1213,700 1213.2,699.1 1213.6,698.1 1213.5,696.5 1212.2,693.5 1213.9,692.4 1213.8,689.2 1213.1,688 1213.2,687.4 1212.3,684.8 1212.8,685.2 1213.7,681.4 1213.8,679.7 1213.5,678.1 1212.4,678.7 1212.8,675.1 1214.2,675.5 1213,674.2 1213.4,671.7 1212.8,670.9 1213.7,669.4 1214.1,665.8 1213.2,663.8 1212.8,661.9 1213.1,661.9 1213.5,660 1212.7,658.8 1213.4,656 1214.3,654.8 1213.5,653.1 1214.3,650.1 1214.9,648.3 1214.6,649.1 1213.4,647.2 1214.1,644.9 1213.5,641.6 1213.9,642.6 1214.6,639.5 1214.1,638.6 1215.5,637.5 1214.6,634.1 1215,633.7 1214.3,632 1215.6,630.7 1214.3,629.3 1214.5,625.8 1215.5,625.9 1215.1,624.3 1215.6,620.8 1215.2,618.8 1214.9,617 1216.1,617.9 1215.2,613.4 1216.8,613.2 1215.8,610.7 1216.2,610.8 1216.1,608 1215.4,607.8 1216.3,604.9 1215.7,603.2 1217.5,600.5 1217.5,601.3 1217.6,599.2 1217,596.5 1217.3,596.1 1217.8,593.3 1219.4,592.9 1219.6,590 1219,589.2 1219.3,586.3 1219.4,584.2 1219.6,585.1 1221,582.4 1220.4,579.9 1219.9,578 1221.5,578.2 1221,576.3 1221.5,573.8 1222.7,572.6 1223.2,571.1 1223.4,569.2 1223.9,566.8 1225,565.1 1226.3,567.2 1226.2,569.5 1227.6,570 1227.2,571.4 1228.4,573.3 1229.5,575.3 1230.6,576.8 1230.9,577.9 1231.9,579 1232.5,581.7 1232,583.5 1233.1,584.8 1233.4,587.3 1232.8,587.7 1232.3,590.4 1233.9,591 1233.6,593.5 1233.8,593.6 1233.6,596.3 1235.2,597.8 1236.1,598.5 1237.2,600.8 1238.3,601.9 1238.3,601.4 1240.2,604.1 1241.4,604.9 1241.1,603.9 1242,600.3 1241.9,599.3 1241.4,597.4 1242.1,596 1242,594 1242.7,593.4 1243.2,592.4 1242.7,591.8 1242.5,588.7 1243.2,587.1 1243.1,586.8 1244,584.2 1244,581.2 1244.6,579.8 1244.6,578.9 1244.9,579.1 1245.5,575.9 1245.7,575 1245.1,571.9 1245.7,571.5 1246.5,571.1 1246.1,567.7 1246.8,565 1245.5,565.1 1246.6,562.2 1246.6,561.7 1247,561.2 1246.7,558.2 1246.6,556.2 1248.1,554.8 1248.2,554.8 1247.7,551.2 1248.6,550.3 1247.7,548.2 1248.9,547.1 1247.8,545.4 1247.7,544.2 1248.4,541.6 1249.2,541.6 1248,539 1248.6,538.6 1249.2,535.7 1249.8,533.3 1249,531.4 1250.4,530.2 1249.8,529.1 1250,527.9 1250.3,524.8 1250.4,523.8 1250.1,522.3 1249.8,521.2 1250.2,519.1 1250.8,518.2 1249.6,515.5 1250.5,515.9 1251.4,513.2 1249.9,512.3 1250.9,509.8 1250.8,508.4 1251.4,506.9 1251,506.1 1250.9,502.9 1251.8,500.7 1250.8,500.9 1250.5,499.3 1251.6,496.5 1250.9,495.9 1252.1,492.3 1251.4,491.9 1251.5,489.6 1250.9,488.7 1252.1,485.5 1251.1,486.1 1252.2,484 1250.9,482.6 1252.6,481.7 1251.8,478.6 1252.7,475.7 1253.5,474.7 1253.7,475.4 1254.3,471.5 1254.1,472.3 1254.4,469.9 1255.4,467 1256.3,465.1 1255.9,464.6 1256.4,462.1 1257.8,462.7 1258.9,459.4 1258.7,458.4 1259.5,457.4 1260.7,455.5 1260.4,454.4 1260.3,456.7 1261.1,458.2 1262.4,460.8 1263,461.3 1263.4,463.3 1263.3,464.7 1263.6,466.9 1264.4,466.7 1264.3,469 1265.5,470 1265.8,473.1 1265,474.7 1265.4,474.7 1266.6,476.6 1267.5,479 1266.8,481.5 1266.7,482.9 1267,482.8 1268.2,485.5 1269.1,484.4 1267.9,481.1 1269.4,481.1 1269.2,477.9 1269,476.9 1268.4,475.3 1269.1,473.7 1268.8,471.4 1269.7,471.3 1269.8,469.1 1270,467.7 1269.6,466.2 1270,464.1 1269,461.4 1269.3,459.8 1270.6,459.5 1270,457.9 1270.6,454.8 1270.3,455.9 1270.7,452.9 1270.6,450.3 1270.2,448.9 1270.7,447.9 1271.8,445.6 1270.8,444.4 1270.8,442.8 1271.1,441.8 1270.9,441.5 1271.7,440 1272.4,437.6 1272.2,436.8 1271.7,434.4 1272.2,432.8 1273.1,429.6 1272.3,427.6 1272.5,426.2 1273,427.2 1273.1,423.7 1273.4,422 1274.1,421.7 1273.2,418.6 1274.3,419.1 1274.4,416 1274.3,414.6 1275.3,411.5 1273.8,412.1 1274.5,408.3 1274.9,409.5 1275,405.9 1274.3,403.4 1275.9,403 1276.1,400.1 1275,398.4 1275.4,396.8 1275.2,396.2 1275.4,393.5 1275.1,394.6 1275.5,391.6 1276,390 1275.5,387.7 1275.7,386.7 1277.3,385.2 1277.3,382.4 1275.9,381.8 1276.9,380 1276.9,378.5 1276.7,377 1277.3,376.1 1276.6,373 1277.5,370.6 1276.2,369.2 1276.2,368.9 1277.5,365.8 1276.2,363.4 1276.4,361.7 1276.8,361.4 1276.9,359.5 1276.6,356.5 1277.5,354.8 1276.7,353.9 1277.2,351.7 1277.4,350.7 1278.1,349.8 1278.5,348.4 1278.4,346.5 1277.9,345.6 1278.4,344.4 1278.7,342 1278,340.7 1278.3,337 1277.9,335.4 1278.3,335.3 1278.5,331.8 1279.5,331.7 1278.3,328.5 1278.6,327.8 1280,327.9 1279.5,324.9 1280,322.5 1280,321.3 1280.2,318.7 1281,319.5 1281.6,315.7 1281.5,314.4 1282.2,313.6 1282.9,313 1281.8,310 1283.6,308.9 1283,307.2 1284,307.1 1283.8,304.2 1284.1,307.2 1284.6,306.3 1285.2,308.9 1284.1,312.2 1284.4,312.6 1285.5,315.1 1285.6,314.8 1285.7,316.4 1286.5,318.5 1287.1,319.8 1286.7,321.4 1288.1,324.8 1288.2,325.8 1287.7,326 1288.7,328.7 1287.6,329.3 1288,332.6 1289,333.6 1289.8,331.1 1289.7,329.9 1289.5,329.9 1289.5,328.1 1289.1,324.1 1289.4,324.2 1288.9,322 1289.2,319.4 1289.2,318.8 1289.6,318.2 1289.5,317.4 1290.3,315.6 1290.2,313.3 1289.9,312 1289.7,309.8 1290.3,308 1289.7,305.1 1289.4,304.3 1290.3,303.9 1290.6,300.9 1291.1,299.2 1290.8,297 1290.9,297.2 1291.3,296.3 1290.9,294.5 1291.1,292.2 1290.7,290.3 1293.3,290.3 1292.9,288.7 1294.3,286.3 1294.6,285.6 1293.6,282.3 1293.8,281.2 1294.4,281.8 1295,279.3 1294.2,276.2 1294.8,275.9 1295,273.7 1295.5,271.6 1294.6,270.1 1295.3,270.4 1294.6,268 1295.8,265.1 1294.7,264.5 1296.2,263.9 1296.1,260.9 1295.7,259.6 1296.7,257.3 1295.7,256.6 1297.1,253.7 1295.5,251.8 1296.6,251.7 1296.1,248.8 1297,248.6 1297.3,247.2 1296.3,244.8 1297.8,244.6 1297,242.7 1297.7,241.3 1297.6,238.4 1297.1,237.4 1298.2,235.1 1296.9,232.6 1297,230.7 1297,230.6 1296.9,229.4 1298,228 1298.1,226.1 1298.4,225.2 1297.8,223.6 1296.9,219.4 1296.8,218.1 1297.4,217.2 1297.9,216.4 1296.9,213.8 1297.7,212.1 1296.9,211.1 1297.4,209.8 1297.6,209 1298.4,204.7 1298.1,205 1297.2,201.6 1297.6,200.7 1298,200.7 1297.4,197.2 1297.6,196.8 1298.1,194.8 1297.2,192.5 1298.2,191.4 1296.8,189.5 1297.1,188.6 1297.6,186.5 1297.6,184.3 1298.4,183.4 1300.8,182.1 1300.4,181.8 1300.7,178.5 1302.7,175.9 1303.4,175.5 1303.7,174.4 1303.1,175.3 1304.2,177.3 1304.7,177.9 1304.4,182.3 1305.1,182.4 1304.8,183.4 1306.7,186.2 1306.2,185.9 1306.3,189.7 1306.7,190.8 1307.8,192.5 1307.6,192.3 1306.8,196.1 1308,196.9 1309.6,197.6 1312,197.3 1313,197.1 1314.9,195.2 1315.4,194.8 1314.4,192.8 1315,191.8 1316.1,187.9 1315.1,186.5 1315.2,184.9 1315.7,182.8 1314.8,182.2 1314.7,180.4 1316.3,180.3 1315.1,176.1 1316.3,177.3 1315.9,173.3 1315.4,174 1316.7,169.7 1315.4,169.3 1315.6,168.7 1315.9,167.2 1315.5,164.8 1317.1,163.7 1315.6,160.4 1316.6,159.5 1316.2,158.2 1316.6,158.1 1316.1,155.3 1316.2,153.6 1316.7,151.9 1317.2,149.2 1316.9,149.3 1316.1,147.9 1317,145.4 1317.4,144.7 1316.5,142.2 1316.6,140.2 1317.3,137.5 1317.3,137.2 1318,137 1317.6,134.2 1318.4,133.8 1318.9,132.3 1317.8,128.2 1319.1,126.4 1318.4,126 1318.3,128.3 1318.5,128.9 1319.2,130.3 1318.6,133.5 1317.9,133.7 1318.5,136 1318.1,137.3 1317.8,137.8 1318.3,139.6 1319.5,141.6 1318.3,144.8 1319.1,144.8 1319.3,147.5 1318.6,149.2 1318.3,149.7 1319.5,151.9 1319.5,152.7 1318.2,154 1319.3,157.1 1318,157.2 1319.5,160.2 1319.6,160.4 1319.1,162.3 1319.4,165.4 1319.2,165.9 1319.9,167.2 1318.3,170.5 1318.4,170.3 1319.1,173.7 1319.9,175.5 1318.4,176.9 1319.8,177 1319.7,179 1318.9,179.9 1319.8,183 1320,184.5 1318.7,185.4 1318.9,189.2 1318.9,188.3 1319.2,189.9 1319.3,193.1 1319.7,193.4 1319.5,196 1318.9,194.4 1319.9,192.6 1319.7,192.4 1319,188.9 1319.6,188.1 1320.4,186.5 1320,184.5 1320.2,184.2 1319.3,180.4 1319.3,179.5 1320.5,177.6 1320,177.2 1320.6,174 1320.3,173 1319.1,172.3 1320.5,170.6 1319.1,170.1 1319.7,167.5 1320.3,164.8 1319.8,163.4 1319.3,161 1320.4,160.4 1320.7,157.8 1319.7,156.5 1320.9,156.8 1320.8,154.3 1319.4,152.4 1319.7,149.7 1320.3,148.8 1319.5,147.9 1321,147.6 1320.2,143.5 1320.8,141.9 1320.4,140.2 1321.2,140 1320.2,137.5 1320.5,138 1320.3,134.2 1320.4,134.7 1320.2,132.2 1321.2,129.7 1321,128.7 1320.5,127 1321.7,125.7 1325,126.9 1326,127 1325.9,129.9 1326.2,130.2 1325.7,132.6 1325.7,133.4 1326.6,135.4 1325.5,135.8 1326.5,139 1325.5,141.4 1325.6,140.6 1325.5,143 1326.5,145.9 1325.7,147 1325.6,148.3 1325.9,149.2 1325.6,151.9 1325.7,153.7 1326.1,154.8 1326.7,156.1 1327.1,159 1326.1,158.9 1327.2,159.9 1326.4,162.4 1327.4,163.1 1326.9,166.6 1327,166 1327.4,168.5 1327.3,171.2 1326.5,173.3 1327,173.5 1327.1,175.6 1327.1,177.5 1327.3,177.8 1326.8,178.9 1327.3,182.9 1327.4,182.3 1326.9,185.2 1326.2,186 1327.8,189.6 1326.5,191.1 1327.2,191.4 1327.2,192.6 1327,195 1326.6,191.9 1327.4,192 1327.6,190.1 1327.1,187.9 1327.7,186.4 1327.5,186 1327.2,184.1 1326.6,181.2 1328.1,179.2 1326.7,177.2 1328,175.8 1327.5,175.2 1328.2,173.7 1327.7,170.7 1328.3,171.3 1328,169.9 1328,167.9 1328.5,165.9 1327.1,165.1 1328.9,161.4 1327.2,160.2 1327.4,158.7 1327.4,156.6 1327.3,155.6 1327.9,154.8 1328.1,151.5 1329.1,152.1 1328.7,148.4 1328.2,147.5 1328.3,144.6 1328.4,145.1 1328.9,143.8 1328.9,141.9 1329.3,140.7 1329.2,137.6 1329,136.6 1329.5,135.2 1328.8,132 1328.6,130.5 1329.3,130.4 1329,128 1328.5,129.7 1329.7,130.9 1328.4,133.2 1329,133.5 1328.9,134.7 1328.7,137.6 1328.7,137.9 1329.5,142.4 1330.1,142.2 1330.3,143.1 1328.9,144.5 1328.8,147.9 1330.1,149.1 1330.3,150.7 1330.5,152.8 1329.9,153.1 1329.8,155.6 1330.5,156.6 1329.6,159.9 1329.3,160.7 1329.6,162.8 1330.3,162.7 1330.6,165.2 1329.9,168.2 1330.8,168.2 1330.7,169.3 1330.5,170.8 1330.7,174.9 1330.8,173.9 1330.6,176.9 1330.5,177.5 1330.3,180.1 1330,182.4 1330.3,182.8 1330.1,184.5 1331.7,186.1 1330.2,187.9 1331,190 1331.8,190.4 1330.8,192.3 1331.5,194.7 1330.5,197.5 1330.9,198.6 1331.2,200.7 1330.5,200.4 1331,202.1 1332,204.4 1331.2,206 1332.1,207.8 1331.4,209.7 1331.8,210.5 1331.5,211.3 1331.6,215.1 1331.4,215.2 1331.9,217.5 1331.2,218.6 1332.3,219 1331.2,222.8 1332.7,222.3 1331.2,225.6 1331.6,227.3 1331.2,228.3 1331.5,229.5 1332.5,231.6 1332.2,233.2 1332.8,232.6 1332.4,231 1331.7,228.3 1331.9,227.1 1331.6,226.3 1332,224.3 1333.1,223.2 1332.1,221.3 1333.2,217.5 1332.8,217.7 1332.3,214.7 1331.8,213.5 1333.1,211.9 1331.9,210.9 1332.3,209.3 1332.3,206.7 1331.6,206.6 1332.7,203.3 1332.4,202.7 1332.5,202 1333,198.6 1332.2,197.9 1331.9,197.3 1331.7,194.4 1332.1,192.8 1331.7,190.3 1333.4,190.4 1332,187.8 1331.7,185.1 1332,186.1 1332.2,182.3 1331.8,180.2 1333.5,180.5 1333.4,179.2 1333.1,175.8 1332,174.2 1331.9,172.3 1333.1,171.7 1331.8,169.5 1333.3,169.5 1333.1,167.5 1333.5,165.4 1332.5,163.8 1332.3,160.6 1332.3,160.2 1332.1,157.5 1332.3,156.7 1333.6,155.5 1333.4,154.6 1333,151.7 1332.6,150.1 1333.1,150.1 1333.4,146.8 1332.2,144.3 1333,143.4 1332,142 1332.4,140.1 1333.2,139.6 1332.5,138.4 1332.4,137.4 1332.3,134.7 1333.3,133.6 1333,132.4 1333.2,130.2 1333,128 1334.4,126.6 1337.4,127 1337.5,128.8 1336.9,131 1337.5,131.9 1337.9,134.6 1337.6,135.4 1338.3,137.3 1337.9,137.8 1338.3,140.4 1338.7,140.7 1338.4,143.6 1338.1,143.9 1339.5,145.3 1338.9,147.7 1339,150 1338.3,147.7 1338.7,146.4 1340.2,143.8 1339.3,144 1339.9,140.3 1339.4,139.5 1340.7,138.3 1339.7,136.8 1340.3,134.2 1340.7,134.2 1340.5,132 1341.2,131.7 1341.1,127.3 1341,127 1343,128 1343,130.1 1342.8,131.8 1342.9,133.1 1343.3,134.9 1343.9,136.6 1343.6,138.2 1342.7,139.5 1343.5,139.5 1343.8,141.6 1343.3,144.1 1343.8,146.4 1343.3,148.5 1343.3,149 1344.4,149.9 1343.9,153.4 1342.8,154.4 1343.8,155.3 1344.1,157.9 1343,158.4 1343.9,160.6 1344.5,162.5 1344.3,161.9 1343.6,166 1344.6,167.2 1343.5,168.8 1343.9,170.1 1344.1,172.3 1344.3,174.2 1344,174.4 1344.3,176.2 1343.2,179 1343.7,179.2 1343.3,179.9 1344.9,181.7 1343.8,184.9 1343.7,186.1 1344.4,188.4 1344.2,188.3 1343.9,190 1343.4,190.9 1343.7,193 1344.9,196.5 1344.2,196 1344.1,198.8 1344.5,200 1344.5,200.5 1344.6,202.5 1343.9,205.7 1343.9,206.3 1345.1,208.2 1345.3,209.2 1345.5,209.9 1345.4,212.7 1343.9,213.8 1345.7,216.8 1345.2,218.7 1343.9,218.8 1344.8,222.2 1345.6,221.6 1345.8,224.4 1344.6,224.6 1344.8,227.5 1344.9,228.5 1345.8,230.6 1344.7,233.2 1344.6,233.7 1344.4,234.8 1346,237.6 1345.2,239.3 1345.5,240.5 1345,241 1344.4,242.5 1345.1,243.8 1345.6,246.4 1344.9,247.9 1345.4,249.3 1346,251.7 1344.7,252.1 1346.2,255.2 1345.1,257.2 1344.7,259.4 1346.3,260.3 1344.8,261.2 1346.2,263.3 1345.1,263.9 1344.9,266.4 1345.1,267.7 1346.4,270.7 1345.7,272 1345.1,274.1 1346.5,274.3 1346.5,275.4 1346.7,277.1 1346.6,280.2 1346.7,281.5 1345.2,281.8 1346.2,285.3 1346.3,284.3 1345.7,286.8 1345.5,288.1 1346.1,290.2 1345.7,291.9 1346.9,294.1 1346.6,296.7 1345.3,298.2 1345.5,297.7 1346.7,301 1346.5,301.8 1346.7,303.3 1345.8,304.3 1345.7,305.3 1347.2,309.7 1346.1,309.7 1346,312.4 1346.5,312.2 1347.2,316.1 1345.7,316.3 1346,318.4 1346.3,319 1346.3,321.6 1346.6,322.8 1347,324.4 1347.5,325.9 1347.2,329 1347,329.6 1347.3,331.6 1346.3,332.3 1346.2,332.8 1347.2,335.3 1346.4,336 1346.1,339.6 1346.7,340.5 1347.3,343.5 1347,343.9 1347.4,341.4 1348,339.7 1347.3,339.5 1346.8,338.6 1347.4,336.5 1346.6,335.2 1346.9,333 1347.8,330.5 1347,328.9 1348.3,328.3 1347.4,326.4 1347.8,323.8 1346.8,321.8 1347.8,321.6 1348.5,320.1 1348.4,319.6 1347.8,316.3 1347.8,314.5 1348.3,313.5 1347.2,313 1348,310.8 1348.1,308.7 1348.2,305.7 1347.4,305.9 1347.9,302.5 1348.7,302.7 1348.7,300.1 1347.6,299.6 1347.8,297.7 1348.7,294.9 1347.5,294.2 1349,292.6 1349.4,289.9 1349,288.9 1348.7,286.9 1348.2,286 1348.9,285.5 1348.9,282.7 1349,281.4 1348.7,278.7 1349.2,277.5 1348.1,275.2 1348.7,275.2 1349,273 1349.3,271.3 1349.6,269.2 1348.8,268.9 1349.4,266.3 1349.9,263.5 1349.3,264.3 1349.9,260.7 1349.8,260.1 1350.1,257.9 1349.6,257.2 1350.2,254.7 1349.2,252.4 1349.7,250.6 1350.1,249.2 1348.9,250 1349.5,247.8 1349.3,244.6 1349.3,245.2 1349,243.4 1350.3,241.1 1349.2,239.6 1350.4,237.6 1349.2,236 1350.6,234.3 1349.1,231.6 1350,229.5 1348.9,228.8 1349.4,227.6 1349.1,226.1 1350.2,223.8 1350.1,222.8 1350.5,221.3 1350.3,219.7 1350.6,216.6 1349.4,217.3 1350.7,213.1 1350.9,213.3 1350.8,212 1350,208.6 1350.7,208.7 1350.2,205.8 1350.1,206.2 1350.3,202.4 1351.2,203.1 1350.4,200 1350,197.4 1351.1,196.3 1350.8,195.6 1350.6,193.6 1350.6,190.8 1351.3,190 1351.8,188.2 1352.9,185.7 1353.3,184.5 1352.8,182.5 1353.1,183.5 1353.7,181.5 1355.2,179.4 1354.2,177.1 1354.6,174.9 1355.3,173.1 1356.4,172.6 1356.5,170.9 1356.3,171.9 1356.2,173.2 1356.9,174.8 1357.2,177.1 1357.8,178.9 1358.1,182.7 1358.4,182.2 1358.5,184.7 1358.6,186.4 1358.1,187.5 1358.2,190 1358.6,191.2 1358.7,193.8 1357.8,193.4 1357.4,196.2 1357.5,198.3 1356.8,199.6 1358.3,202.6 1357.8,203.4 1357.6,206 1357.8,206 1357.2,209 1357.2,209.6 1356.7,211.4 1356.9,213.9 1357.8,215.6 1357.6,214.4 1355.9,216.9 1357.2,219.2 1356.1,219.4 1356,221.1 1355.7,224.5 1355.7,224.4 1356.4,225.9 1356.7,229.1 1356.7,230.9 1356.3,231.2 1355.7,233.1 1355.5,236.3 1355.5,237.6 1355.8,237.1 1354.9,240.1 1355.9,240.7 1354.8,242.8 1355.1,244.5 1355.9,246.7 1354.6,247.5 1355,248.6 1354.7,249.9 1355,253.9 1355.4,254.7 1354.4,256.2 1354.6,256.7 1354.5,259.2 1353.8,260.7 1354.8,262.9 1353.8,263.3 1354.3,265.8 1353.6,267.2 1353.7,269.3 1354.5,270.1 1353.8,272.3 1353.9,273 1353.1,276.6 1352.8,277.5 1352.9,278.5 1353.2,279.4 1352.6,283.2 1352.3,282.3 1353,285 1353.5,283 1352.5,282.6 1354,279.3 1353.5,278.3 1354.1,277.3 1353.9,275.8 1352.6,273.6 1353.7,271.1 1352.6,272 1354.1,269.4 1352.6,267.9 1354.3,266.6 1353.9,263.9 1353.7,263.8 1353.5,259.6 1352.9,260.6 1354,259 1353,254.9 1354,254.2 1353.6,252.1 1354.2,252.1 1354.2,249.4 1353.8,247.7 1353.8,245.9 1353.8,246.2 1354.5,242.1 1354.3,242.6 1353.7,241.2 1354.8,237.1 1354.3,236.4 1354,235.3 1354.8,234 1354.9,231.2 1354.7,230 1353.7,229.7 1354.4,226.3 1355,225.5 1354.7,225.4 1354.1,222.5 1354.5,220.1 1354.5,220.5 1354.9,216.8 1354.9,216.2 1354.3,214.8 1354.4,213.5 1354.4,212 1354.3,208.5 1354.4,206.7 1355.4,207.7 1354.6,203.9 1355.5,204.1 1354.4,200.8 1354.9,198.7 1354.4,197.9 1354.3,195.5 1355,195 1355.2,196 1355.9,199.6 1355.5,199.1 1355.7,200.9 1355.9,202.8 1355.7,205.4 1355.7,207 1355.1,206.8 1355.2,210.8 1354.7,210.4 1355.2,212.5 1356.3,213.3 1355,214.4 1355.4,218.1 1355.7,219.5 1355.9,220.2 1355.7,220.9 1356.7,224.6 1355.3,224.6 1356.5,227.1 1356.5,229.4 1355.5,231.2 1355.7,230.8 1356.7,234.4 1355.9,234.7 1356.8,236.1 1356.3,239.8 1355.8,241.2 1357.2,243 1356.1,242.2 1356.5,243.7 1357.4,246.5 1357.3,247.9 1356.8,250.9 1356.1,250.3 1357.5,253 1357.4,255.8 1357.5,256.3 1357.5,257.6 1356.6,258.6 1357.9,260.8 1356.3,262.8 1358.1,264.3 1357.3,265.4 1357.6,267.5 1357.4,270 1358.1,271.2 1357.9,272.6 1357,273.5 1357.2,274.3 1358.4,276 1358.3,279.4 1357.6,278.6 1357.2,282 1358.2,282.8 1358.1,283.8 1358.2,287.2 1358,288 1358.6,286.6 1358.2,283.3 1357.7,282.8 1357.4,280.2 1359,280.4 1358.4,278.8 1359,277 1358.2,274.7 1359.2,274.7 1357.8,272.7 1358.7,269.7 1358.9,267.8 1359,267.1 1358.7,263.9 1359.4,265 1359.1,261.4 1359.1,259.2 1358.8,258.3 1358.7,256.5 1358.1,255.3 1358.4,252.9 1358.6,251.1 1358.1,252 1358.2,250.2 1358.9,246.2 1359,245.8 1358.3,244.3 1358.3,241.9 1359.6,241.9 1358.7,239 1360.1,237.1 1358.6,235.2 1360,233.9 1359.7,234.1 1359.7,230.2 1359.5,229 1359.5,228.2 1360.4,226.8 1359.6,225.6 1359.7,222.1 1360,220.7 1359.2,219.4 1359.8,216.7 1359.6,217.9 1359.9,214.5 1359.8,213.8 1360,211.3 1360,210 1360.2,210.9 1360.5,213 1360.6,214.4 1360.5,215.5 1360.3,218 1359.5,218.5 1360.4,222.1 1361.1,223.9 1361.2,225.9 1360.1,225 1360.1,228.6 1360.2,228.7 1360.2,232.1 1360.4,231.7 1361.2,234.7 1360.2,236 1361.2,237.5 1361.2,239.8 1361.8,241.6 1361,240.8 1361.3,242.3 1361.7,245.3 1362,248 1362,249.2 1361.4,250.9 1362,251 1362.5,253.3 1361.9,254.1 1362.5,256.5 1362.4,259.3 1362.1,260.1 1362.1,260.7 1362.7,264.3 1361.4,263.3 1362.3,265 1362.3,267.4 1362,270.3 1362.7,272.4 1362,272.3 1362.9,275.1 1362.6,275 1362.6,277.7 1363.7,279.6 1363.6,281.7 1362.9,282.4 1363.7,284.6 1363,284.6 1363.6,286.6 1362.8,288 1363.7,290.8 1363.4,292 1364.2,290.7 1363.4,289.9 1362.9,287.4 1364.4,285.1 1362.9,282.8 1362.8,283 1363.5,281.7 1364.3,277.7 1363.4,276.8 1363.3,274.5 1363.3,273.8 1363.7,272.8 1364.7,269.9 1363.2,270.7 1363.5,268 1363.6,267.4 1364.8,264.9 1363.3,262.7 1364.4,261.6 1363.7,259.5 1363.3,257.9 1364.7,256.3 1364.1,254 1364.6,253.1 1364.1,252.6 1363.9,248.9 1364.6,249.3 1363.6,246.5 1365.1,245.4 1364.3,242.6 1364.1,242.4 1365.3,241 1365.4,238.6 1363.8,236.8 1364.4,234.4 1363.9,235.3 1365.4,231.4 1364,232.3 1364.2,228.7 1364.3,226.8 1364,225.9 1365.4,223.1 1364.9,221.7 1365.4,222.4 1365.6,219.7 1365,218 1364.4,220.3 1364.4,222.1 1364.9,224.1 1364.9,225.3 1365.4,225.4 1365.4,227.6 1364.9,229.6 1365.6,231.7 1365.4,233.1 1365.2,234.4 1365.3,236.8 1365.3,237 1365.2,238.6 1366.1,240.1 1365.4,243.7 1365.8,243.3 1366.1,246.8 1366.8,248.6 1366.5,248.6 1366.5,249.4 1366.9,253.3 1367.4,254.9 1366.9,256.5 1366.4,257.4 1366.2,260.2 1366.9,259.5 1367.8,262.5 1366.5,264.8 1367.3,265.8 1367.9,266.5 1366.9,268.9 1366.8,270.9 1367.4,271 1366.8,272.5 1367.7,276.4 1368.2,277.9 1367.8,279.4 1367.5,279.7 1368.6,281 1368.1,283.6 1368,285 1367.3,283.6 1368.7,282.9 1368,281.3 1367.4,279.7 1368.6,277.8 1368.3,275.5 1369,272.7 1367.9,272.7 1369.2,269.5 1368.7,268.7 1368.3,268.1 1368.4,266.2 1368.7,262.7 1369.7,261.1 1368.2,259.1 1368.7,257.5 1368.4,258.6 1368.7,256.3 1368.7,252.5 1368.4,251.2 1370.1,250.6 1368.9,247.7 1369.7,246.9 1368.9,245.6 1369.9,243.7 1369.7,241.6 1369.8,239.6 1370.5,240.6 1369.9,237.6 1369.7,236.8 1370.1,235 1369.9,232.5 1370.5,230.2 1369.8,228.7 1369.6,229 1369.9,226.9 1370.3,224.6 1369.5,227.5 1370.3,228.6 1369.7,229.8 1371.1,230.5 1369.8,232.4 1371.1,235.2 1369.9,235.5 1371.4,237 1370,240.4 1371.4,240.7 1371.2,243.3 1371.5,243.2 1371.4,247.1 1371.5,247.5 1370.9,250.5 1372,251.6 1371.2,253.5 1371.9,253.9 1370.6,255.9 1370.6,256.7 1371.5,258.8 1371.7,261.4 1372.3,261.5 1372.3,263.2 1371.3,266.1 1372.5,267 1372.2,269.6 1371.4,270.6 1372.5,270.4 1371.1,274.6 1372,274.9 1372.4,276.6 1371.3,277.9 1372,280 1372.6,278.8 1372.2,275.2 1373.2,273.8 1372,274.3 1373.2,272.3 1372.3,270.9 1372.9,268.7 1373.2,267 1372.9,264.5 1373.4,262.4 1372.3,262.3 1372.3,261.4 1372.6,258.5 1372.8,256.9 1373.6,254.4 1373.5,255.1 1372.9,251.2 1373.1,249.2 1372.8,250.1 1373.8,247.1 1374.7,247.3 1374.6,250.6 1373.6,253.1 1373.5,254 1374.6,255.8 1374,255.8 1374.8,257.8 1374.8,260.8 1373.9,262.3 1375.7,263 1375.1,264.4 1375.8,265.7 1374.5,268.2 1375.2,270 1374.9,272.7 1375.5,273 1375.8,274.4 1376.4,275.1 1376.9,279.2 1375.9,279.8 1375.7,282.6 1377.6,283.7 1377.8,285.1 1377.2,286.9 1378.4,289.5 1379,290 1378.7,290.3 1380,292.1 1379.8,295.2 1379.6,296.1 1380.3,296.6 1381,299.3 1382.1,301.9 1383,304 1382.3,304.8 1383.5,307 1383.1,307.2 1384.2,309.3 1385,307.2 1386.1,305.9 1386.3,303.3 1387.2,304.4 1387.9,300.9 1388.3,301.2 1387.5,296.9 1389.1,298.1 1388.5,296.1 1390.2,293.4 1389.9,291.9 1391.1,290.3 1391.4,287.8 1392.5,287.8 1391.5,285.8 1392.6,285.1 1393.6,283.4 1392.2,280.4 1392.8,279.7 1392.9,278.3 1394.2,276.2 1395.2,275.2 1395.1,272.9 1395.1,270.9 1394.5,268.3 1396,267.4 1395.9,267.1 1396.3,264.4 1396.7,263.5 1398.1,262.3 1397.7,260 1398.7,258.4 1398.7,255.6 1399.6,255.8 1401.2,253 1401.5,251.6 1402,249.5 1402.3,250 1403.2,247.1 1404,244.4 1402.8,245 1403.5,242.7 1403.9,241 1404.6,238 1404.6,236.8 1403.3,235.3 1404.2,235.2 1404.5,234.1 1403.9,230.7 1404.7,229.7 1405.1,227.9 1404.1,227.1 1405.5,223.4 1405.7,221.6 1405.5,221.8 1405,218.6 1405,218.6 1405.7,217.6 1405.1,215.4 1405.5,212.1 1405.4,210.7 1405.5,208.8 1407.1,208.2 1406.8,206.8 1406.5,204.7 1406.6,203.8 1407.9,204.5 1408.4,207.8 1408.7,207.3 1409.4,210.5 1409.1,211.9 1409.3,214.6 1410.8,216.2 1409.7,216.5 1411.2,217 1412,220.3 1411.8,221.1 1411.3,222.1 1412.6,225.5 1413.4,225.3 1413.3,227.9 1412.6,228.4 1412.4,229.5 1413.2,231.3 1413,233.6 1413.1,234.8 1413.5,238.8 1414.1,239.3 1414.5,242 1415.2,243.5 1415.5,244.6 1415.8,245 1415.3,247.1 1415.7,248.2 1416.4,249.7 1416.7,251.3 1415.7,254.4 1416.3,254.5 1415.6,258.1 1415.9,258.7 1417.2,260.2 1416.8,260.9 1417.8,263.9 1417.4,264.9 1417.7,266.5 1416.9,268.1 1418.1,271.3 1417.8,272.3 1418.7,273.9 1419,274.4 1419,277.5 1418.6,278.7 1418,278.6 1418.8,281.7 1418.6,284.4 1419.9,285.2 1420.6,287.6 1421.7,287.6 1422.2,288.7 1423.4,290.1 1423.9,292.8 1423.2,295.7 1423.9,296.4 1424.6,296.3 1425.7,299 1426.3,301.8 1426.6,302.8 1426.3,302.8 1427,304.9 1426.5,305.7 1426,308.8 1426.4,310.1 1426.4,310.5 1427,313.1 1426.1,314.8 1427.2,317.5 1426.9,317.2 1427.4,320.3 1427.2,323 1427.1,323.3 1426.6,323.8 1427,325.5 1427.1,326.9 1428.5,330 1427.9,331.5 1427.6,334 1428.5,334.3 1427.4,334.7 1427.5,338.5 1427.6,339.3 1428.6,340.6 1428.3,344 1429.6,345 1428.9,347.2 1429.4,346.7 1429.1,349.1 1428.7,346.4 1428.8,345.6 1429.9,343.4 1429.1,342.2 1430,342.3 1431,340.5 1430.1,338.9 1430.3,336.6 1431,333.9 1431.2,332.4 1431.8,330.7 1432,329 1430.8,328.2 1432.6,327.2 1431.7,325.2 1432,324 1432.1,321 1433.6,319 1432.2,318.2 1432.8,317.3 1433.3,314.5 1434.1,314.6 1433.1,311.4 1433.2,310.8 1434.3,309.9 1434.3,307.6 1434.3,310.3 1435.9,310.6 1434.9,311.3 1436.4,312.5 1436.7,316 1436,315.9 1436.9,318.3 1438.4,321 1438,320.2 1438.7,322.3 1438.7,326.1 1439.1,326 1440.3,329.2 1439.6,329.7 1441.1,329.9 1440.5,332.1 1441.4,334.7 1443,336.2 1442.4,338.7 1443,338.8 1443.8,337 1443.1,335.6 1442.5,334.4 1443.6,332.3 1443.4,331.9 1443.6,329.7 1444.1,328.2 1443.4,327.2 1444.3,323 1444.5,321.6 1444.3,321.4 1444.2,318.9 1443.4,316.8 1443.1,315 1443.3,315.5 1444,314 1444.8,311.1 1443.4,310.9 1443.4,308.1 1444.8,305.3 1443.8,305.3 1443.5,304.3 1444.7,301.8 1444.9,298.9 1445,298.5 1444.3,297.7 1444.5,293.8 1444.9,292.1 1444.8,291.1 1444.7,290.3 1444.9,288.4 1445.8,287.5 1445.5,284.6 1446.6,282.5 1446.6,282.9 1447,279.2 1446.4,279.4 1448,277.8 1448.7,276.4 1448,275.5 1448,271.4 1448.7,269.5 1449.3,269.4 1449,268 1449.9,266.1 1450.1,268.3 1450.9,270.3 1451,269.8 1451.1,273.2 1450.7,273.9 1451.5,275.3 1451,277 1451.8,280.1 1453.1,281.9 1453.2,284 1452.8,284.6 1452.2,286.5 1453.9,287 1453.7,287.9 1454.6,290.6 1454,291.6 1455,295.4 1454.4,295.8 1454.5,298 1455.1,299 1455.5,301.7 1454.6,302.3 1456.4,302.5 1456,305.2 1455.2,306.6 1456.9,308 1456.2,311.6 1455.7,310.7 1456.7,314.2 1455.9,316.5 1457.4,317.4 1456.6,320 1456.7,321.9 1457.5,323.3 1457.6,324 1458.5,325.2 1457.5,328.4 1458.9,327.5 1458.8,331.1 1457.8,331.2 1458.5,333.6 1458,336.2 1458.4,337.8 1460,339.9 1459.1,341 1459.4,340.5 1461.1,342.2 1461.2,346.4 1461.1,346.3 1462.1,348.6 1462.6,350.4 1462,350 1463.1,353.8 1462.1,355.2 1462.6,356.1 1462.8,356.6 1463.7,359.5 1463.6,361.9 1464.1,364 1464.4,365.4 1463.2,367.2 1464.1,366.9 1462.8,371 1463.1,372.6 1464.5,372.9 1463.8,373.6 1462.9,377.6 1463.9,377.6 1463.7,380 1463.3,380.4 1464.4,382.6 1463.2,385.8 1463.8,385.5 1464.4,387.7 1464.4,389.6 1464.6,390.7 1464.6,394.4 1464.2,394.4 1464.8,396.1 1464.7,398.3 1465.8,398.5 1465.1,402.6 1464.4,403.3 1465.1,404.4 1465.5,406 1466.2,406.9 1465.2,409.7 1467.1,410.8 1467.3,412.6 1467.1,414.7 1467.5,416.3 1467.6,418.2 1467,420.3 1467.9,420.8 1468.2,422 1467.8,425.4 1468,425.3 1468.9,427.4 1468.2,428.4 1469.7,429.6 1469.4,431.2 1468.9,435.4 1469.8,435.6 1469.4,436.3 1470.5,440.2 1470.7,440.6 1471.6,441.9 1471,443 1471.7,444.3 1470.9,446.1 1471.8,449.7 1471.3,449.7 1472.3,450.6 1472.2,452.9 1472.6,454.3 1472.6,457.7 1471.7,457.3 1472.4,458.5 1472.5,460.8 1472.8,461.8 1472.9,463.9 1472.9,466.9 1472.2,467.3 1473.4,470 1473.8,469.6 1473,472.1 1474,474.2 1473.2,474.8 1473.5,476.9 1472.9,479.4 1474.5,480.3 1473.9,483.3 1474.1,483.8 1475.1,486.8 1474.9,486.1 1474.4,488.1 1475.4,491.1 1475.6,490.8 1474.8,494.9 1475.2,495.3 1475.5,497.3 1474.9,499.2 1476.8,500.4 1476,502 1475.9,503.9 1477.1,504.9 1477.2,506.8 1477.5,509.1 1477.6,510.7 1477.8,509.8 1477,513.9 1477,515.4 1478.3,514.8 1478.8,518.1 1477.8,518.6 1478.9,521.1 1478.9,523.3 1478.6,525 1479.9,526.5 1479.3,527.1 1479.4,527.9 1479.7,530 1480.2,530.7 1479.7,532.3 1479.6,534.5 1480.5,537.6 1480.4,539.5 1480.8,541.3 1480.7,541 1480.6,544 1481.6,546 1481.6,547.1 1481.2,549.2 1481.2,548.6 1483.1,549.8 1483.2,554.2 1481.8,554.1 1483.3,557.3 1483,558.7 1483,559.8 1482.6,561.2 1483,563 1483.3,562.5 1483.8,564.7 1484.1,565.6 1484.2,567.9 1484.5,570.3 1484.4,572.2 1485.3,573.5 1484.9,574.5 1485.5,577.4 1485,577.2 1486,579.2 1486.3,581.7 1485.3,582.7 1487,585.7 1486.7,587.8 1487.5,588.8 1487.5,589.5 1487.7,590.5 1488,594.2 1488,595.7 1487.9,596.5 1487.1,598.2 1487.2,600.4 1488.7,601.9 1488.8,601.7 1488.7,603.9 1489.4,605.9 1488.8,607.8 1489.6,609.2 1489.1,610.9 1489.6,610.8 1489.7,613.6 1489.6,614.2 1490.4,615.7 1491.2,618.8 1490.5,620.8 1492,620.4 1492.3,623.4 1492.9,626.4 1492.8,627.7 1492.3,629.2 1493.6,630.8 1493.5,631 1493.8,632.4 1494.6,635.6 1494.9,637.6 1494.7,638.7 1495.4,640 1496.1,642 1495.2,642.6 1495.7,644.3 1496.6,646.1 1495.9,649.5 1496.8,651 1496.8,650.2 1496.3,654.2 1496.5,653.4 1497.7,656 1496.9,657.4 1498.1,658.5 1497.9,660.4 1498.4,663.9 1498.7,665.1 1498.8,666 1499.6,666.1 1498.5,670.2 1499.4,670.5 1500.2,671.7 1499.7,674.9 1500.3,674.3 1499.7,678.3 1500.5,678.5 1501.2,680.5 1501.4,681.3 1501.1,683.2 1500.2,685.7 1501.3,686.3 1501.2,688.1 1501.9,691.4 1502.3,692.9 1501.7,691.8 1501.6,695.8 1501.7,697.2 1503.5,698.9 1502.8,698.7 1503.6,700.3 1502.3,702.7 1504.2,705.9 1503.6,704.6 1503.7,707.4 1504,709.2 1504.5,710.4 1504.3,713.4 1505.2,713.2 1504.9,714.2 1505.1,715.7 1505.5,718.4 1506.3,720.3 1505.1,722.7 1505.8,723.7 1506.6,724.8 1506.4,725.3 1506.3,727 1506.8,729.8 1506.5,731 1506.4,734.4 1508.1,734 1508.6,736.9 1507.9,737.2 1508.5,740.3 1508.9,740.8 1509.2,741.7 1509.3,745.6 1508.2,744.7 1509.2,747.3 1509.8,749.5 1509,749.2 1510.7,753.7 1510.9,752.6 1510.8,755.4 1510.4,756.6 1511.2,758.5 1510.5,759.1 1510.5,761.9 1512,764 1512.6,766.6 1512.7,767.2 1512.3,769.3 1512.8,769.4 1512.8,771.9 1513,773.7 1513.2,775.7 1513.1,776 1514.6,779.4 1513.5,781.3 1514.7,781.4 1514.4,783.6 1514.3,784.3 1514.1,786 1516,789.8 1515.8,791.4 1515,791.7 1517,792.4 1515.6,796 1516.9,797.6 1516.2,798.9 1517.4,800.6 1517.2,799.6 1518.1,802.2 1517.5,803.2 1517.7,806.1 1519.2,806.2 1518.4,810 1518.8,810.9 1519,813.1 1520,812.5 1519.9,815.9 1520,815.8 1520.5,817.1 1520.2,819 1521.3,821.7 1521.3,824.3 1522.7,824.7 1522.8,827.6 1523.6,827.4 1523.5,831.1 1523.9,830.1 1524.4,834 1524.4,833.4 1523.8,835 1525,838.4 1524.6,840.7 1525.5,840.3 1526.2,842.3 1525.9,843.7 1527.3,845 1526.6,846.8 1527.8,850.1 1527.7,850.1 1528.2,852.8 1527.8,855.7 1529.2,854.7 1529.7,858.7 1529.4,860.6 1529.8,860.7 1530.7,863.9 1531.2,864.9 1532,865.1 1532,867.3 1532.2,868.1 1532.3,872.1 1534.1,871.3 1534.7,873.4 1534.7,875.5 1534.6,877 1535.1,878.8 1534.8,880.5 1535.7,883.2 1537,882.9 1537.9,885.4 1538,887.5 1538.7,887.5 1539.5,890.7 1539.9,892.3 1539.5,894.6 1540.9,896 1540.6,895.7 1542.2,899.4 1542.1,899.5 1543.2,900 1543.3,902.7 1543.5,903.6 1545.3,907 1546.3,908.4 1546.2,909.9 1547,909.6 1548.5,911.1 1549,913.4 1549.4,915.2 1550.7,916.3 1552,917.1 1554.6,918.1 1554.6,920.7 1557.1,920.7 1557.6,922 1559.8,921.8 1560.2,922.3 1562.8,923.7 1564.4,923.4 1565.1,920.3 1566.8,919.5 1568.3,919.8 1569.8,918.7 1571.5,916.8 1572.9,916.9 1574,915.9 1574.7,913.5 1575.6,911.3 1577,912.1 1578.4,909.9 1580.1,908.3 1580.1,906.4 1581.5,905.3 1583.2,904.5 1583.1,902.7 1584.3,902.4 1585.3,899.5 1586.5,900.6 1588.4,899.6 1589.6,899.4 1592.2,900.4 1593.3,898.7 1595.3,897.2 1596.2,897.5 1598.1,896.6 1598.9,894.6 1600.9,894.3 1602.8,895.1 1603.2,891.6 1605.9,893.6 1606.5,892.8 1608.2,891.9 1609.5,890 1610,887.3 1612.7,887.3 1612.7,886.9 1614.7,884.8 1615.1,885 1617.7,887.7 1618.6,888.4 1619.9,889.1 1620.9,889.8 1621.4,892.4 1622,894.3 1624.1,895.3 1623.6,895.7 1625.1,897.8 1626.4,898.8 1627.2,898.7 1628.4,900.9 1629,903.9 1631.3,904.9 1632,904.7 1633.3,905.1 1635.9,903.6 1637.4,904.8 1639.1,904.1 1640.7,903.8 1641.6,904.3 1643.1,906.2 1644.7,906.6 1645.4,910.2 1647.6,909.9 1648.8,912.1 1651.2,910.9 1651.4,912.1 1652.5,913.1 1655.1,915.6 1656.3,916 1657.4,915.6 1660,915.6 1661.8,915.2 1662.4,912.8 1664.9,913.4 1666.7,912.4 1668,912.3 1669.5,911.4 1670.3,911.1 1671.8,909 1673.6,908.3 1675.4,907.3 1676,907.4 1678.6,905.6 1678.9,904.7 1681,905.2 1682.2,904.7 1683.5,903.2 1684.7,902.9 1685.7,901.5 1687.1,900.6 1689.1,899.5 1690.8,898.6 1692.3,899.1 1693.9,897.6 1696.1,896.9 1698.7,896.7 1699.4,897.9 1701.3,898.4 1703,897.8 1705,898.3 1705.6,900.3 1706.8,902.1 1708.2,903 1708.8,903.6 1710,905.4 1711.3,906.3 1713.6,908.6 1713.6,908.3 1715.1,910.8 1717.1,911.5 1718.7,910.3 1720.5,913 1722.2,913 1723.5,912.6 1725.5,913.4 1726.5,915.1 1728.8,915.3 1729.8,915.4 1732.1,915.5 1732.8,917.2 1734.1,918.6 1736.1,920.9 1737.2,921 1737.9,922.6 1739.8,923.1 1740.5,922.3 1742.8,923.7 1744.9,923.1 1745.4,923.9 1748.3,925.9 1749.1,925.4 1751.4,925.5 1753.6,925.2 1754.7,923.4 1755.5,921.7 1757.6,920.7 1759,920.3 1760.5,918.2 1761.4,916.8 1762.6,917.6 1764.1,914.9 1765.2,912.7 1765.3,911.9 1766.4,909.9 1767.7,909.9 1768.1,908.6 1769.5,906.6 1770.5,905.7 1770.9,904.7 1770.9,902.9 1771.8,899.9 1772.8,899.6 1772.4,898.1 1774.7,894.5 1774.6,894.3 1775.9,892.5 1776.4,890.8 1776.1,890 1776.4,887.1 1777.5,885.9 1776.9,884.1 1779,883.9 1778.2,881.6 1779.6,879 1780.5,879.8 1780.7,877.6 1780.8,874.4 1781.5,873.6 1782.1,873.1 1782.6,869.3 1783.4,869.9 1783.1,866.2 1782.5,864.3 1784,864 1784.7,861.2 1783.8,859.9 1785.1,859.8 1785.2,857.3 1784.7,855.4 1784.7,854.7 1785.9,852.6 1786.7,849.7 1786.6,848 1786.7,847.6 1786.6,846.4 1787.4,845.5 1787.2,842.3 1787.8,840.5 1788.6,839 1788.5,838.7 1788.2,836.7 1789.3,834.4 1789.5,832 1789.3,832.1 1790,829 1790.1,828.6 1791.3,826.9 1790.4,824.8 1791.4,822.3 1791.9,821.7 1792.7,819.8 1793.2,818.4 1792.4,817.9 1792.4,814.7 1793.3,812.4 1794.1,811.4 1795,811.6 1793.7,807.8 1795.1,807.7 1794.7,805 1796.3,805.1 1795.6,802.8 1797,801 1796.3,800.3 1796.9,797.9 1797.1,795.7 1798.1,792.7 1796.9,791.1 1797.4,792.2 1798.5,788.7 1798.5,787.3 1798.6,785.4 1799.6,784.9 1798.3,782.8 1800.1,780.5 1798.9,777.9 1799.9,777.2 1800.2,776.5 1800.2,774.6 1800.7,772.8 1800.8,770.1 1800.7,769.9 1802.1,766.5 1800.8,765.9 1802.6,765.5 1801.6,763.1 1802.3,761.1 1801.7,760.4 1801.9,759.2 1802.7,755.7 1802.9,753.5 1803.1,752.1 1802.7,751.3 1804.4,750.5 1804.1,747 1804.1,745.8 1804.4,746.1 1804.1,743.4 1804.8,741.5 1804.3,741.3 1806,737.6 1806.1,736.7 1805.7,735.2 1806.6,733 1805.3,733.4 1806.1,729 1806.1,728.2 1807.4,728.5 1806.6,724.3 1806.5,725.3 1807.4,721.1 1807.3,720.6 1808.1,719.1 1808.6,717.2 1808.9,716.3 1808.7,712.9 1808.4,711.8 1809.7,711.9 1809.2,709.2 1809.7,708.1 1808.9,704.5 1808.9,704.2 1809.5,704.2 1809.3,701.5 1809.8,698.5 1810.9,698.8 1810.5,696.2 1810,694.9 1811.3,694.2 1811.6,692.3 1810.6,691 1810.6,687.4 1811.6,687.2 1811.9,685.3 1811.8,683.3 1812.4,681.4 1811.3,679.4 1812.5,679.1 1812.4,677 1813.4,675.6 1812.9,673.4 1812.4,671.7 1814.1,670.5 1813.4,669.3 1813.2,667.1 1813.4,665.7 1814,664.9 1814.7,662 1814.4,660.8 1815.5,659.4 1814.6,656.6 1814.1,655.6 1815.4,653.7 1814.7,652.7 1814.9,650.4 1815.8,650.3 1815.7,648.6 1815.9,645.3 1816.9,645.2 1816.9,643.9 1816.8,640.3 1817,640 1817,638.3 1818.5,635 1819.2,635.8 1819.6,633.9 1820,630.9 1820.2,630 1819.6,627.8 1821.1,626.9 1821.6,624.1 1820.3,623.5 1822.2,622.5 1822.2,618.1 1822.1,619.2 1821.6,616.6 1822.4,614.3 1823.2,611.8 1822,612.1 1823.3,609.7 1823.7,607.2 1822.8,605.1 1823.5,604.9 1824.5,602.7 1824.5,601.7 1824.7,599.5 1824.4,599.5 1825.4,596.6 1825.9,594.1 1826.7,593.4 1826.3,591.6 1826.2,591.4 1827.7,590.1 1827.8,587.6 1827.8,587 1827.8,584.2 1828.6,581.8 1828.1,580.2 1827.4,580.3 1829,578.1 1827.6,576.7 1827.9,575 1828.4,570.6 1828.7,570.3 1829.2,567.3 1829.3,566 1829.3,564.1 1828,564.4 1828.9,562.9 1828,560.8 1829.3,559.9 1829.3,557.9 1829.3,555.8 1828.7,554.4 1829.3,551.6 1828.3,551.9 1828.2,548.1 1829.2,549.1 1828,544.6 1828.7,544.4 1829,543 1829.5,541.5 1829.5,538.3 1829.5,537.8 1830.9,536.3 1830.6,535.1 1830.8,533.5 1830.1,530.6 1830.6,529.6 1831,529.3 1830.9,525.2 1832.4,523.6 1831.4,522.6 1832.3,521.7 1832.9,520.8 1833,518.4 1834,516.1 1833.5,514.8 1833.2,513.7 1834.7,511.1 1833.7,509.1 1834.4,510.2 1835.1,505.9 1836,504.6 1835.3,504.1 1836.5,503.3 1835.7,502 1836.4,499.9 1836.2,497.7 1837.2,497.2 1837.7,494.4 1837.3,492.5 1836.8,491.5 1837.2,490.5 1838.9,488.7 1837.7,486.3 1838.9,485.2 1839.6,481.6 1838.6,479.6 1840.3,479.5 1839.9,479 1839.4,475.7 1840.5,474.2 1841,472.7 1840.9,471.5 1840.8,471.2 1841.9,467.5 1841.6,466.5 1842.2,465.2 1842.1,462.3 1842.9,462 1844.1,460.2 1843.9,458.4 1843.6,456.3 1845.4,455.7 1844.6,454.9 1846.5,453.2 1846.8,450 1846.3,448.5 1847.1,446 1847.7,445.7 1847.5,444.6 1849,441.2 1848.1,440.1 1849.6,439.2 1849,437.9 1850.1,436.2 1850.1,435.3 1850.4,433.2 1850.5,432.2 1851.7,429.7 1851.5,429 1850.9,425.8 1851.6,424.9 1852.7,423.3 1852.7,422.3 1852.9,419.8 1853.3,418.8 1854.7,416.6 1855.4,413.8 1855.8,414.3 1856.6,411 1856.9,411 1857.9,410.4 1857.5,406.7 1858.9,406 1859.3,403 1858.9,401.4 1859.3,401.5 1858.4,398.4 1858.9,397.3 1859.2,396.5 1859,393.2 1858.6,394.1 1858.8,392.7 1859.3,388.8 1859.6,386.9 1859.1,386.8 1859.4,383.6 1860,382.5 1860.6,380.7 1859.8,380 1859.2,377.6 1860.4,377.7 1860.4,374 1859.6,373.3 1859.8,372.8 1860.3,369.8 1859.2,369.5 1860.7,367.3 1860.3,365.4 1860.6,363.7 1859.9,361.3 1859.8,359.5 1860.1,356.4 1860.2,354.8 1860.7,353.1 1859.8,353.3 1859.6,349.9 1860.3,350.4 1861.3,346.1 1859.7,344.7 1861.1,344.4 1860.7,342.2 1861.8,340.6 1861.6,340 1862,338.4 1862.8,334.7 1862.4,334.2 1863.4,334.2 1863.4,331.1 1865.1,329 1865.5,327.6 1865.2,325.1 1866.4,325.3 1866.7,323.2 1868.1,321.6 1868.6,320.1 1871.3,319.6 1872.1,317.9 1872.7,316.5 1875.4,316 1875.7,314.6 1877.1,314.5 1878.4,316.8 1879.8,314.7 1881.2,317.4 1882.5,316.6 1884.6,318.6 1885.7,319.7 1886.7,319.5 1886.4,317.3 1886.9,313.7 1887,314.1 1887.6,312 1887.8,311.1 1888.2,307.7 1888.7,308.1 1887.4,304.8 1887.6,303.9 1888,302 1888.7,300.8 1889.2,299 1889.3,296.1 1889.2,296.7 1890.3,294.2 1890.2,290.8 1891.5,290.7 1892.6,287.9 1892.9,288.3 1892.7,285.1 1892.7,286.9 1892.5,288.8 1894,290.9 1893.9,291 1893.4,292.9 1894.5,293.3 1894.2,297.4 1895,299.2 1894.4,299.5 1894.9,301.5 1896.4,303.1 1896.7,305.1 1896.1,305.9 1896.7,305.7 1898.7,304.1 1900.3,301.3 1901.2,302.4 1901,300.4 1903,299 1903.1,297.2 1902.9,294.5 1903.4,295.2 1904,291.1 1903.7,290.4 1904.4,290.2 1903.6,286.9 1903.1,285.8 1903.4,285.2 1904.1,282.8 1903.5,280 1903.8,278.5 1903.8,277.4 1904.7,276.3 1904.5,274.6 1904.8,273 1905.2,271.3 1907.4,268.7 1908.5,269.9 1910.3,268.7 1910.2,265.3 1911.7,264.4 1911.3,261.5 1912.8,261.2 1912,260.4 1913.9,258.5 1913.5,256 1913.2,254.2 1915.3,254.4 1914.2,252.9 1914.4,249.3 1915.4,247.7 1916,247.1 1916.7,249.6 1916.8,250.7 1916.7,253.2 1917.2,254.1 1917.7,253.7 1916.8,256.9 1917.5,257.4 1917.1,260.2 1917.6,262.6 1917.5,264.7 1917.1,266 1918,267.4 1918.7,269.2 1918.8,269.6 1917.8,271.2 1918.4,273.2 1918.6,274.7 1920.7,276.6 1921.2,274.8 1923.8,276.5 1923.8,277.8 1924.4,278.5 1924.5,280.8 1925.6,282.8 1926.6,283.6 1926.8,286.4 1927.4,287.8 1927.3,290.3 1929.8,289.4 1930.1,291.5 1932.8,291.1 1934.2,290.3 1934.1,293.2 1934.8,294.6 1934.6,296.5 1933.4,297.9 1933.4,299 1933.5,299.9 1933.5,300.7 1933.9,304.6 1933.6,304.2 1934.3,306.1 1933,307.1 1934,311.5 1934,311.9 1934,314.1 1934.4,315.4 1932.9,318.2 1933.8,318 1934.1,321.1 1933.2,321.4 1932.7,324.6 1933.3,324.9 1934,323.7 1933.4,322.4 1935.1,321.1 1934.5,317.1 1935.2,315.4 1935.1,314.8 1936.3,314.2 1935.2,311.9 1936.5,309.4 1936.7,307.2 1937.3,307.2 1937.9,306.5 1937.1,302.3 1938.1,302.5 1938.5,299.8 1938.3,299.6 1938.9,296.4 1938.4,296.1 1939.4,293.8 1939.2,293.5 1940.3,290.4 1939.4,287.6 1940.1,288 1939.5,285.6 1940.1,284.1 1940.7,282.4 1941,280.1 1941.3,279.3 1941.1,278.1 1941.9,277.6 1940.4,275.2 1941.5,273.4 1941.2,271.2 1941.6,269.5 1942.7,267.5 1942,265.2 1942,264.2 1942.2,262.3 1942.2,261.2 1942.7,260 1943.2,258.9 1943,256.7 1943.2,255.8 1943.1,255.2 1944.1,253.1 1943.7,250.5 1943.3,251.3 1944.3,254.9 1944.2,256.4 1944.7,255.6 1945.6,260 1944.7,261.3 1944.6,262.5 1945.6,263.4 1946.2,264.2 1945.2,267.2 1946.4,267.2 1946.5,269.4 1946.4,271.9 1947,273.3 1947.3,274.6 1947.8,276.4 1946.6,278 1948.2,280.7 1947.3,280.6 1948.1,284.1 1948,285.1 1948,283.2 1949.9,282.4 1950.8,280.9 1950,279.1 1951.6,279 1951.6,275 1953.2,275.2 1953.2,273 1952.6,271.3 1954.2,269.5 1953.5,266.8 1954.4,266 1953.7,264.2 1954.5,262.9 1954,262.4 1954.4,259.8 1954.5,258.8 1953.7,256.5 1954.2,255.1 1954.5,253 1954.8,252.7 1953.7,250.7 1953.8,247.9 1955,245.2 1955.4,244.1 1955.3,243.6 1954.8,243 1954.5,241.4 1954.9,238.4 1955.7,236.8 1955.5,236.2 1955,232.9 1955.9,232.7 1957.3,231 1956.2,230 1958,228.3 1957.1,226.7 1957.1,224.5 1958.5,222.8 1958.4,221.1 1958.3,219.6 1959,217.7 1958.6,215.3 1960,215.9 1958.8,212 1959.7,212.3 1960,211.2 1959.8,207.8 1959.7,207.3 1960,204 1961.4,202.2 1960.6,202.6 1960.6,199.1 1962,199.5 1961.2,197.2 1961.9,195.8 1961.9,193.4 1962.4,190.7 1962.6,189.2 1963,187.3 1962,187 1963.3,184.9 1962.7,182.7 1963.5,181.5 1963,179.1 1963,177.9 1962.9,176.4 1964.4,175.7 1964.7,174.2 1964.1,172.6 1964.7,170 1964.5,169.2 1964.3,168 1965.2,166 1965,165.4 1964.7,161.6 1965.8,162.1 1965.4,161 1965.5,157.3 1966.4,156.6 1965.5,153.5 1965.8,152.7 1965.8,152.4 1967.2,150.2 1967.1,148.4 1966.9,149 1968.3,151.5 1967.3,153.1 1968,156 1968.1,155.7 1967.5,159.1 1969.1,160.2 1968.2,162.4 1968.9,163.4 1968.3,164.4 1969.8,166.9 1970,167.4 1969.7,169.2 1970.2,171.7 1972.4,173.4 1972.7,174.8 1972.8,176.2 1974.1,175.5 1975.7,177.9 1976,179.9 1976.1,180.2 1977.6,182.9 1977.3,185 1978.1,187.1 1978.1,186.4 1978,189.5 1978.8,189.2 1979.7,192.5 1980.8,193.1 1980.2,196.6 1980.9,196.9 1981,197.5 1980.3,199.2 1980.7,202.3 1980.1,202.1 1980,204.3 1979.8,205.9 1978.8,209.5 1979.6,211 1979.5,210.2 1979.9,212.5 1978,214.3 1977.9,216.2 1978.8,218.2 1978.3,221.3 1978.1,222.8 1978.3,222.8 1978.4,223.9 1977,227.6 1977.4,228 1978.9,228.8 1981.2,231 1982.7,232 1984.4,231.5 1985.3,230.3 1985.8,227.6 1986.8,225.9 1987.4,225.9 1987,222.5 1988.4,222.5 1989,219.5 1988.4,217.9 1989.6,218 1989.9,214.5 1990.7,213.9 1991.3,212.5 1992.1,212.2 1991.7,208.4 1991.3,205.8 1991.2,204.6 1991.8,203.5 1993,203.2 1993.3,200.8 1993.7,200 1993,196.9 1992.8,194.9 1994.3,195.1 1993.4,191.2 1994.4,189 1994.9,187.7 1994.8,187.3 1994.5,186.4 1994.3,184.3 1994.5,182.8 1995.4,180.8 1995.9,178.5 1995.6,177 1996.2,179.6 1996.9,180.7 1995.7,181.9 1997.5,184.2 1996.5,186.1 1997.8,185.8 1997,188.8 1997.4,188.8 1998.9,193.2 1999.3,192.8 1999.6,194 1999.1,196.9 1999.7,198.1 1999.5,201.6 2000,201.3 2000.2,203.1 2000,203.6 2001,205.2 1999.4,207.4 2000.8,210.5 2000,210.8 2000.9,214.3 2000.5,213.6 2000.9,215.3 2002.2,219.1 2000.7,220 2001.7,221.1 2001.7,221.6 2002.7,223.7 2001.5,225.2 2003.1,226.6 2003.7,229.5 2003.6,231.8 2003.7,233 2002.8,235.2 2002.9,235.3 2004.6,238.1 2003.6,240.4 2004.5,239.3 2004.6,241.7 2005.4,242.6 2004.9,244.6 2005.1,247.1 2005.6,247.7 2005,251.3 2005.9,251.8 2005.2,252.3 2006.4,254.6 2007.1,256 2007.3,259.7 2006,260 2007,262.1 2008.1,261.9 2008.2,264.7 2007.5,267.1 2007.6,267 2007.3,268.4 2009.3,270.4 2008.6,273 2009,274.4 2009.5,275.4 2008.1,277 2008.7,278.1 2008.7,281 2009.2,283.6 2009.6,283.6 2009.7,287.4 2009.9,287 2009.5,288.4 2009.9,291 2008.9,291.5 2010.2,293 2008.7,296.9 2010.1,295.9 2009.5,299 2010.1,301.8 2010.4,301.1 2010.7,302.7 2009.5,305.2 2010.9,307 2011.1,307.2 2011.4,311 2011.6,310.9 2010.3,313.5 2010.6,315.7 2011.6,318.2 2011,318.6 2012.5,320.5 2011.3,322.8 2011.9,323.9 2012.1,324.9 2012.2,327.1 2013.9,329.1 2013.6,329.1 2013.3,331.4 2014,333.9 2014.4,333.9 2015.1,337 2015.9,336.4 2015.4,338.2 2016.9,341 2017.2,342.2 2017.6,344.3 2017.5,345.3 2019,348.2 2019.1,347.8 2019.6,351.4 2018.2,350.3 2019,354.3 2019.7,355 2019.6,355.3 2020.6,359 2020.7,359.5 2021.4,361.9 2020.6,362.2 2022.7,365.5 2022.4,365.8 2023.3,366.4 2024,369.7 2023.8,370.4 2024.1,373.4 2024.2,373.8 2024.4,376.4 2025,376.6 2025,379.8 2025.9,380 2027.1,382.4 2026.4,382.2 2026,383.7 2027.4,386.7 2028.2,387 2028.5,390.7 2028.6,391.5 2027.9,392.5 2029.3,394 2029.6,396.8 2029.3,397.3 2030.3,398 2030.8,399.1 2030.6,400.8 2031.3,403.3 2032,404.7 2033,405.8 2033.2,409.8 2033.8,411.3 2034.9,411.7 2036.3,411.8 2036.3,414.6 2037.3,416.2 2036.1,417.5 2037.6,419.4 2038,422.6 2038.2,423.6 2038.3,425.8 2038.8,428.1 2037.6,429.8 2039.5,429.9 2038.9,431.9 2039.2,434.6 2039.4,433.9 2039.5,436 2039.3,437.7 2039.5,439.3 2038.2,441.3 2038.6,442 2039.8,446.1 2039.2,447.2 2039.1,447.5 2038.9,448.6 2038,452.1 2038.9,452.7 2039.2,454.6 2039.2,456.8 2040,458.2 2040.1,460.1 2040.4,462.1 2040,461.9 2040.6,463.8 2039.6,464.5 2041.3,466 2041.5,469 2041.7,470.3 2041,472.1 2040.8,474.4 2041.1,475.6 2040.9,478.1 2040.9,479.6 2041.5,479.1 2042.1,483.3 2042.3,483.8 2042.5,484.1 2042.6,487.7 2044,487.4 2043.5,489.1 2043.5,493 2044.1,493.9 2044,495.8 2044.6,497 2045.5,498.5 2044.7,499.4 2045.1,502.9 2045.4,501.9 2046.6,505.7 2046.7,507.2 2047.1,507.1 2046.6,509.8 2047.5,510 2048.1,512.2 2046.9,514.6 2048.1,517.2 2048.2,519 2048,518 2048.4,520.2 2049.2,523.8 2050,524.4 2049,526.1 2050.4,528.1 2049.5,528.1 2050.8,530.9 2051,532.2 2052.4,535 2052.6,535.1 2053.2,536.7 2052.8,538.6 2054.1,539 2053.9,541.1 2055.5,543.7 2054.9,542.9 2055.7,545.3 2056.8,546.8 2057,549.6 2058.4,550.1 2058.6,552 2059.1,553.8 2059.6,553.6 2060.5,556.5 2060,556.7 2061.6,560.1 2061.5,560.9 2061.6,563.3 2061.3,563.5 2061.3,566 2062.6,568.2 2061.9,569.4 2062,571.3 2063.9,572.6 2063.4,574.6 2063.1,575.9 2063.7,576.9 2063.9,579.6 2064,581.5 2065.3,582.7 2064.8,584.2 2065.6,587.1 2066,587.9 2066.4,588.8 2065.2,589.5 2067.1,591.5 2066,592.8 2066.3,594.3 2067.2,597.2 2067.9,599.8 2067.5,599.9 2067.8,602 2068.1,604.8 2068.7,604.7 2069.5,607 2069.1,608.4 2069.5,609.1 2069.6,611.6 2070.9,614.1 2069.7,613.7 2070.6,616 2070.9,619.1 2072.4,618.6 2071.5,620.5 2072,621.7 2072,625.7 2073,626.5 2074.3,629 2074.4,629.2 2074.3,630.9 2074.8,631.5 2075,635.4 2075,636.8 2075.8,637.7 2076.6,639.8 2077.4,640 2077.6,641.8 2077.6,643.3 2077.9,645.5 2079.1,645.2 2078.6,649.4 2079.9,648.7 2079.3,650.8 2081.3,652.2 2081.5,655.7 2080.4,656.4 2081.1,656.5 2082.7,659.6 2081.5,660.2 2082.5,663.7 2083.7,664.1 2083.3,665.8 2083.7,667.2 2084.3,669.4 2084.7,669.9 2085.4,671.3 2086.1,674.2 2085.6,675.7 2085.3,676.4 2085.4,678.3 2085.8,680.7 2087.2,680.9 2087.6,683.3 2088.3,685.4 2087.5,685.7 2088.6,688.1 2088.5,688.8 2088.7,691.9 2089.2,692.4 2088.4,693.6 2088.9,697.3 2089.1,697 2090.4,700.5 2090.2,702.2 2089.3,704.5 2090.6,705.3 2090.1,706.3 2091.2,707.6 2091.4,710.3 2090.6,710.4 2091.2,713.8 2091,713.4 2091.2,716.1" fill="none" stroke="#000" stroke-width="4.3" stroke-linejoin="round" stroke-linecap="round"/>
<polyline points="1557.6,922 1559.3,922.3 1560.6,923.9 1562.8,923.7 1563.7,922.6 1566.2,920.6 1567.2,920.5 1568,918.9 1570.3,917.9 1571.5,916.8 1572.9,915 1573.5,913.7 1575,914.2 1576.2,912.7 1577.1,911.5 1578.4,909.9 1578.9,908 1580.6,907.4 1581.3,904.6 1582.1,903.4 1583.1,903.1 1584,901.8 1585.3,899.5 1587.5,898.8 1588.6,899.9 1589.9,900 1592.2,900.4 1594.1,898.6 1595.2,897.6 1596.6,898.1 1597.6,895.3 1599,895.4 1600.9,894.3 1601.8,892.8 1603.8,893.7 1605.1,891.9 1606.8,890.6 1608.2,890.1 1609.5,890 1610.9,889.6 1611.6,887.5 1613.5,885.4 1614.7,884.8 1615.7,886.9 1617.9,886.2 1618.8,888.9 1619.9,889.1 1620.5,890.8 1621.1,891.7 1622.7,893.6 1623.7,894.1 1624,897.1 1625.1,897.8 1626.4,898.9 1627.3,901.1 1628.6,900.3 1630.1,902.1 1630.8,903 1632,904.7 1633.7,904.2 1635,904.6 1636.7,904.7 1638.4,904.5 1640.7,903.8 1642.4,905 1643.7,905.7 1645.1,907.3 1645.9,909.6 1647.6,909.9 1648.9,910.7 1650.9,911.7 1652.2,912.3 1653.8,913.5 1654.3,915.9 1656.3,916 1657.6,916.4 1660.3,915.2 1660.9,913.6 1662.8,913.7 1664.9,913.4 1666.4,913.5 1667.5,910.9 1669.1,910 1669.9,910 1671.8,909 1673.5,907.5 1674.7,908.2 1676.6,906.9 1678.2,905.9 1679.5,906.5 1681.2,905.3 1682.2,904.7 1683.1,902.8 1685,902 1686.5,900.7 1688.1,900 1689.1,899.5 1690.3,898.2 1692.5,898.3 1694.2,896.9 1696.1,896.9 1697.8,898 1699.6,898.2 1700.7,898.6 1703,897.8 1704.8,899.2 1705.6,900.5 1707.4,900.8 1708.2,903 1709.5,904.4 1710.3,906 1711.9,906.1 1713,908.1 1713.9,909.8 1715.1,910.8 1716.3,911.4 1718.4,912.4 1720,912.7 1722.3,912.8 1724.2,912 1725.5,913.4 1727,914.5 1728.6,914.9 1729.3,915.4 1731.4,916.2 1732.1,917.4 1734.1,918.6 1735.5,919.5 1736.4,920.9 1738.3,921.7 1739.3,922.9 1741.5,923.8 1742.8,923.7 1745.1,924.7 1745.8,924.1 1747.6,925.3 1749.3,924.6 1751.4,925.5 1752.5,923.7 1755,924.4 1755.8,922.9 1757.4,921.4 1759,920.3 1759.9,919.3 1760.9,917.2 1762.3,915.8 1763.3,916 1763.9,913 1765.9,911.6 1766.3,911.9 1767.7,909.9 1768.5,907.8 1768.6,906.3 1769.5,905.8 1771,904.2 1771.6,903 1772.3,901.4 1773.1,898.2 1773,896.9 1774,895.8 1774.6,894.3" fill="none" stroke="#000" stroke-width="5.8" stroke-linejoin="round" stroke-linecap="round"/>
<g fill="#000" stroke="#000" stroke-width="1.2" stroke-linejoin="round">
<polygon points="1210,600 1217,598 1218,640 1216,700 1210,700"/>
<polygon points="1222,570 1226,562 1230,568 1233,580 1236,592 1242,600 1245,584 1247,590 1244,608 1238,606 1232,598 1228,584 1224,578"/>
<polygon points="1251,478 1256,462 1260,452 1264,458 1268,470 1270,456 1271,470 1269,488 1265,486 1262,470 1257,476 1253,484"/>
<polygon points="1276,360 1280,322 1284,302 1290,288 1294,290 1293,312 1291,330 1288,336 1286,316 1282,330 1279,362"/>
<polygon points="1296,240 1297,186 1303,173 1306,182 1309,196 1315,194 1316,152 1318,126 1321.5,126 1321.5,190 1318,204 1312,214 1306,226 1300,244"/>
<polygon points="1318,126 1333.5,126 1333.5,152 1318,152"/>
<polygon points="1326,126 1333.5,126 1334,200 1333,234 1330.5,232 1330,198 1326,198"/>
<polygon points="1337,126 1344,126 1345,170 1346,186 1348,200 1352,190 1356,170 1359,172 1360,190 1363,214 1371,222 1375,246 1377,272 1378,288 1372,290 1366,284 1363,294 1358,284 1352,286 1349,300 1348,345 1346,345 1345,290 1343.5,200 1341,170 1338,150"/>
<polygon points="1376,288 1382,296 1390,288 1396,262 1402,246 1405,222 1407,202 1411,218 1415,246 1411,256 1404,268 1398,282 1392,300 1386,310 1379,306"/>
<polygon points="1416,250 1420,282 1426,297 1430,300 1433,306 1439,312 1444,290 1449,266 1452,272 1456,298 1460,332 1464,358 1460,358 1456,334 1452,310 1448,296 1446,320 1444,340 1441,338 1438,322 1434,318 1431,340 1429,350 1427,336 1425,312 1420,300 1416,280"/>
<polygon points="1463,396 1467,404 1470,430 1472,444 1468,440 1465,420"/>
<polygon points="1606,890 1612,884 1617,884 1622,890 1627,898 1622,900 1616,892 1610,894"/>
<polygon points="1742,922 1752,922 1760,918 1762,926 1750,930 1740,928"/>
<polygon points="1851,420 1858,404 1861,410 1858,424 1853,440 1848,446 1847,436"/>
<polygon points="1859,360 1861,340 1867,322 1877,313 1886,318 1889,298 1892,284 1895,296 1897,304 1903,298 1905,272 1911,264 1915,248 1918,262 1920,274 1925,276 1928,290 1935,290 1934,324 1930,318 1926,308 1920,300 1914,296 1908,312 1902,320 1896,318 1890,326 1884,334 1876,338 1868,346 1862,356"/>
<polygon points="1938,296 1942,262 1944,250 1946,262 1948,284 1953,272 1955,238 1958,222 1960,236 1958,268 1954,286 1948,296 1943,300"/>
<polygon points="1961,196 1964,170 1967,148 1970,168 1976,176 1981,194 1985,206 1990,206 1993,196 1995,177 1998,190 2000,214 2004,244 2008,270 2010,298 2006,290 2002,262 1997,236 1993,226 1988,232 1983,236 1977,230 1974,214 1969,204 1964,214 1961,224"/>
<polygon points="2008,300 2011,300 2013,322 2018,340 2022,358 2027,378 2031,396 2037,412 2040,430 2036,430 2032,416 2026,402 2022,384 2017,362 2012,344 2009,324"/>
<polygon points="2040,470 2044,480 2048,508 2053,530 2049,532 2044,510 2040,486"/>
<polygon points="2057,548 2062,556 2066,582 2070,606 2066,608 2062,586 2058,562"/>
<polygon points="2083,668 2088,676 2092,694 2093,712 2091,720 2087,714 2085,696 2083,682"/>
</g>
</g>
<g font-size="52" letter-spacing="1.2">
<text x="171.5" y="141.4" text-anchor="end" font-size="54" letter-spacing="-0.7"><tspan class="ng" font-size="50.5" stroke="#000" stroke-width="1.6" dy="-0.4" letter-spacing="0">1</tspan><tspan dy="0.4" dx="-2">00</tspan></text>
<text x="172.6" y="303.9" text-anchor="end">80</text>
<text x="172.6" y="463.9" text-anchor="end">60</text>
<text x="172.6" y="623.9" text-anchor="end">40</text>
<text x="172.6" y="783.9" text-anchor="end">20</text>
<text x="172.6" y="943.9" text-anchor="end">0</text>
</g>
<g font-size="52" letter-spacing="-0.5">
<text x="294.2" y="978.2" text-anchor="end"><tspan font-size="33" dy="-4.8" stroke="#000" stroke-width="1.1">–</tspan><tspan dy="4.8" dx="1.6">4,000</tspan></text>
<text x="500.8" y="978.2" text-anchor="end"><tspan font-size="33" dy="-4.8" stroke="#000" stroke-width="1.1">–</tspan><tspan dy="4.8" dx="1.6">2,000</tspan></text>
<text x="900.4" y="978.2" text-anchor="end">2,000</text>
<text x="1102.7" y="978.2" text-anchor="end">4,000</text>
<text x="629.9" y="978.2" text-anchor="middle">0</text>
</g>
<g font-size="52" letter-spacing="-0.5">
<text x="1319.6" y="980.2" text-anchor="end"><tspan font-size="33" dy="-4.8" stroke="#000" stroke-width="1.1">–</tspan><tspan dy="4.8" dx="1.6">4,000</tspan></text>
<text x="1524.2" y="980.2" text-anchor="end"><tspan font-size="33" dy="-4.8" stroke="#000" stroke-width="1.1">–</tspan><tspan dy="4.8" dx="1.6">2,000</tspan></text>
<text x="1924.2" y="980.2" text-anchor="end">2,000</text>
<text x="2124.2" y="980.2" text-anchor="end">4,000</text>
<text x="1653.7" y="980.2" text-anchor="middle">0</text>
</g>
<g font-size="58.5">
<text x="628" y="80" text-anchor="middle">Gaussian</text>
<text x="1651.5" y="78.5" text-anchor="middle">Doughnut-shaped</text>
<text x="463.8" y="1046.3" letter-spacing="0.55">Position,</text>
<text class="sf" x="724.6" y="1046.3" font-size="65.5">μ</text>
<text x="764.5" y="1046.3">m</text>
<text x="1487.2" y="1047.8" letter-spacing="0.55">Position,</text>
<text class="sf" x="1748" y="1047.8" font-size="65.5">μ</text>
<text x="1787.9" y="1047.8">m</text>
<text transform="translate(68.5 649.3) rotate(-90)" font-size="59.3">Intensity, %</text>
</g>
<g font-size="59">
<text x="443.5" y="225.2">2</text>
<text transform="translate(703.6 193.9) scale(1.2 1)" font-size="53.5" letter-spacing="0" class="ng" stroke="#000" stroke-width="1.6">1</text>
<text x="1421" y="445.2">2</text>
<text transform="translate(1790.4 284.4) scale(1.2 1)" font-size="53.5" letter-spacing="0" class="ng" stroke="#000" stroke-width="1.6">1</text>
</g>
<radialGradient id="gBase" gradientUnits="userSpaceOnUse" cx="640" cy="1410" r="490" >
<stop offset="0.0000" stop-color="#303030"/>
<stop offset="0.6898" stop-color="#303030"/>
<stop offset="0.7449" stop-color="#232323"/>
<stop offset="0.8122" stop-color="#181818"/>
<stop offset="0.8735" stop-color="#0f0f0f"/>
<stop offset="0.9286" stop-color="#080808"/>
<stop offset="1.0000" stop-color="#030303"/>
</radialGradient>
<filter id="b10" filterUnits="userSpaceOnUse" x="1200" y="1040" width="940" height="740"><feGaussianBlur stdDeviation="10"/></filter>
<filter id="b16" filterUnits="userSpaceOnUse" x="1200" y="1040" width="940" height="740"><feGaussianBlur stdDeviation="16"/></filter>
<filter id="b5" filterUnits="userSpaceOnUse" x="1200" y="1040" width="940" height="740"><feGaussianBlur stdDeviation="5"/></filter>
<g clip-path="url(#clipG)">
<g filter="url(#fcG)">
<rect x="234" y="1073" width="822" height="673" fill="url(#gBase)"/>
<ellipse cx="631" cy="1412" rx="336" ry="308" fill="#494949"/>
<ellipse cx="629" cy="1421" rx="297" ry="284" fill="#666666"/>
<polygon points="375.8,1415.6 372.7,1358.4 392.6,1327.9 419.3,1305 430.7,1247.8 484.1,1186.8 529.9,1156.3 583.2,1152.5 640.5,1167.7 678.6,1175.3 728.2,1186.8 751.1,1217.3 796.8,1240.2 850.2,1285.9 880.7,1339.3 888.4,1404.2 884.5,1461.4 880.7,1530 850.2,1564.4 804.5,1587.2 773.9,1613.9 747.2,1652.1 716.7,1678.8 659.5,1675 629,1652.1 583.2,1613.9 529.9,1587.2 484.1,1564.4 438.3,1545.3 430.7,1522.4 453.6,1499.5 430.7,1465.2 392.6,1442.3" fill="#808080"/>
<polygon points="423.1,1408 419.3,1347 438.3,1293.6 468.8,1247.8 487.9,1194.4 529.9,1186.8 583.2,1190.6 640.5,1194.4 697.7,1205.9 743.4,1232.6 793,1259.3 835,1293.6 857.8,1339.3 869.3,1385.1 865.5,1442.3 850.2,1491.9 827.3,1530 789.2,1560.5 754.9,1587.2 735.8,1613.9 724.4,1644.5 697.7,1652.1 671,1625.4 621.4,1602.5 575.6,1575.8 529.9,1549.1 491.7,1518.6 468.8,1480.5 445.9,1446.1" fill="#ababab"/>
<polygon points="457.4,1408 453.6,1354.6 468.8,1301.2 491.7,1255.4 507,1205.9 545.1,1205.9 583.2,1209.7 621.4,1217.3 659.5,1232.6 697.7,1247.8 747.2,1270.7 793,1308.8 827.3,1354.6 838.8,1408 835,1461.4 812.1,1499.5 773.9,1530 735.8,1549.1 697.7,1572 659.5,1568.2 621.4,1572 583.2,1556.7 545.1,1530 507,1499.5 487.9,1461.4 468.8,1430.9" fill="#d4d4d4"/>
<polygon points="484.1,1408 468.8,1347 476.5,1308.8 507,1263.1 537.5,1232.6 568,1213.5 606.1,1232.6 636.6,1259.3 667.2,1247.8 697.7,1270.7 747.2,1308.8 793,1354.6 816.7,1408 812.1,1446.1 797.6,1465.2 781.6,1493.8 754.9,1524.3 732,1548.3 671,1551 606.1,1552.9 568,1537.7 529.9,1507.2 503.2,1476.6 495.5,1438.5" fill="#ffffff"/>
</g>
<path d="M274 1407.3H1016" stroke="#ffd8e0" stroke-opacity="0.45" stroke-width="1.4"/>
<circle cx="554.6" cy="1396.6" r="4.5" fill="#0010a0" filter="url(#soft)"/>
<circle cx="676.7" cy="1574.7" r="6" fill="#000060" filter="url(#soft)"/>
<circle cx="716.7" cy="1619.7" r="6.5" fill="#000050" filter="url(#soft)"/>
<circle cx="657.6" cy="1311.5" r="3.2" fill="#202070" filter="url(#soft)"/>
<circle cx="537.5" cy="1460.6" r="3.2" fill="#207070" filter="url(#soft)"/>
<circle cx="371.6" cy="1354.6" r="4" fill="#101000" filter="url(#soft)"/>
<circle cx="407.8" cy="1475.9" r="4" fill="#004010" filter="url(#soft)"/>
<circle cx="354.4" cy="1579.6" r="4" fill="#000050" filter="url(#soft)"/>
<circle cx="838.8" cy="1587.2" r="3.5" fill="#006010" filter="url(#soft)"/>
<circle cx="897.9" cy="1282.1" r="4" fill="#0000b0" filter="url(#soft)"/>
<circle cx="524.1" cy="1312.6" r="2.8" fill="#a08060" filter="url(#soft)"/>
<circle cx="648.1" cy="1117" r="3" fill="#004040" filter="url(#soft)"/>
<circle cx="711" cy="1150.6" r="2.5" fill="#009030" filter="url(#soft)"/>
<circle cx="371.6" cy="1274.5" r="3" fill="#005070" filter="url(#soft)"/>
<circle cx="888.4" cy="1213.5" r="3" fill="#0000c0" filter="url(#soft)"/>
</g>
<radialGradient id="dOut" gradientUnits="userSpaceOnUse" cx="1672.4" cy="1408.4" r="600">
<stop offset="0.0000" stop-color="#000" stop-opacity="0.000"/>
<stop offset="0.4367" stop-color="#000" stop-opacity="0.000"/>
<stop offset="0.4500" stop-color="#000" stop-opacity="0.020"/>
<stop offset="0.4600" stop-color="#000" stop-opacity="0.090"/>
<stop offset="0.4650" stop-color="#000" stop-opacity="0.310"/>
<stop offset="0.4750" stop-color="#000" stop-opacity="0.420"/>
<stop offset="0.4842" stop-color="#000" stop-opacity="0.515"/>
<stop offset="0.4933" stop-color="#000" stop-opacity="0.590"/>
<stop offset="0.5033" stop-color="#000" stop-opacity="0.660"/>
<stop offset="0.5200" stop-color="#000" stop-opacity="0.745"/>
<stop offset="0.5367" stop-color="#000" stop-opacity="0.810"/>
<stop offset="0.5667" stop-color="#000" stop-opacity="0.860"/>
<stop offset="0.5967" stop-color="#000" stop-opacity="0.900"/>
<stop offset="0.6333" stop-color="#000" stop-opacity="0.940"/>
<stop offset="0.6667" stop-color="#000" stop-opacity="0.970"/>
<stop offset="0.7083" stop-color="#000" stop-opacity="1.000"/>
<stop offset="1.0000" stop-color="#000" stop-opacity="1.000"/>
</radialGradient>
<radialGradient id="dIn" gradientUnits="userSpaceOnUse" cx="1668.5" cy="1404.6" r="166">
<stop offset="0.0000" stop-color="#000" stop-opacity="1.000"/>
<stop offset="0.6024" stop-color="#000" stop-opacity="1.000"/>
<stop offset="0.6235" stop-color="#000" stop-opacity="0.945"/>
<stop offset="0.6446" stop-color="#000" stop-opacity="0.855"/>
<stop offset="0.6747" stop-color="#000" stop-opacity="0.810"/>
<stop offset="0.7018" stop-color="#000" stop-opacity="0.765"/>
<stop offset="0.7289" stop-color="#000" stop-opacity="0.690"/>
<stop offset="0.7518" stop-color="#000" stop-opacity="0.633"/>
<stop offset="0.7892" stop-color="#000" stop-opacity="0.560"/>
<stop offset="0.8301" stop-color="#000" stop-opacity="0.480"/>
<stop offset="0.8584" stop-color="#000" stop-opacity="0.360"/>
<stop offset="0.8916" stop-color="#000" stop-opacity="0.260"/>
<stop offset="0.9307" stop-color="#000" stop-opacity="0.160"/>
<stop offset="0.9639" stop-color="#000" stop-opacity="0.060"/>
<stop offset="1.0000" stop-color="#000" stop-opacity="0.000"/>
</radialGradient>
<g clip-path="url(#clipD)">
<g filter="url(#fcD)">
<g filter="url(#nzD)">
<rect x="1260" y="1063" width="813" height="694" fill="#adadad"/>
<polyline points="1620.7,1201.1 1599,1207.8 1578.2,1216.7 1558.4,1227.7 1539.9,1240.8 1522.9,1255.8 1507.6,1272.5 1494.1,1290.8 1482.6,1310.3 1473.3,1331 1466.2,1352.5 1461.5,1374.7 1459.1,1397.2 1459.1,1419.9 1461.5,1442.4 1466.3,1464.6 1473.4,1486.1 1482.8,1506.7 1494.3,1526.3 1507.8,1544.5 1523.1,1561.1 1540.1,1576.1 1558.7,1589.2 1578.5,1600.2 1599.3,1609.1" fill="none" stroke="#cccccc" stroke-width="135" stroke-linecap="round" stroke-linejoin="round" filter="url(#b16)"/>
<polyline points="1586.1,1602.1 1608,1610.4 1630.7,1616.3 1653.9,1619.6 1677.3,1620.4 1700.7,1618.5 1723.7,1614.1 1746,1607.2 1767.5,1597.9 1787.9,1586.2 1806.8,1572.4 1824,1556.6 1839.5,1538.9" fill="none" stroke="#cccccc" stroke-width="128" stroke-linecap="round" stroke-linejoin="round" filter="url(#b16)"/>
<polyline points="1764.3,1567.6 1780.6,1557 1795.7,1544.7 1809.5,1530.9 1821.6,1515.7 1832.2,1499.3 1840.9,1481.8 1847.7,1463.6 1852.6,1444.7 1855.4,1425.5 1856.2,1406 1854.9,1386.6 1851.6,1367.4 1846.2,1348.6 1838.9,1330.6 1829.8,1313.4 1818.8,1297.3 1806.2,1282.4 1792.2,1268.9 1776.7,1257 1760.1,1246.9 1742.5,1238.5 1724.2,1232 1705.2,1227.5 1685.9,1225 1666.4,1224.6 1647,1226.3 1627.9,1230" fill="none" stroke="#cccccc" stroke-width="66" stroke-linecap="round" stroke-linejoin="round" filter="url(#b16)"/>
<polyline points="1819.7,1541.1 1834.2,1523.1 1846.4,1503.5 1856.2,1482.7" fill="none" stroke="#cccccc" stroke-width="88" stroke-linecap="round" stroke-linejoin="round" filter="url(#b16)"/>
<polyline points="1563.1,1226.6 1544.3,1239.4 1526.8,1254.1 1511.1,1270.7 1497.3,1288.8 1485.4,1308.3 1475.8,1328.9 1468.4,1350.5 1463.3,1372.8 1460.7,1395.4 1460.5,1418.2 1462.8,1440.9 1467.5,1463.3 1474.6,1484.9 1484,1505.7 1495.5,1525.4 1509.1,1543.7 1524.6,1560.5 1541.8,1575.5" fill="none" stroke="#ffffff" stroke-width="104" stroke-linecap="round" stroke-linejoin="round" filter="url(#b10)"/>
<polyline points="1565.2,1555.9 1584,1567.8 1604.1,1577.4 1625.2,1584.5 1647,1588.9" fill="none" stroke="#ffffff" stroke-width="40" stroke-linecap="round" stroke-linejoin="round" filter="url(#b10)"/>
<polyline points="1642.4,1578.1 1661.5,1580.4 1680.8,1580.6 1699.9,1578.5 1718.7,1574.4 1736.9,1568.2" fill="none" stroke="#ffffff" stroke-width="27" stroke-linecap="round" stroke-linejoin="round" filter="url(#b10)"/>
<polyline points="1761.9,1576.7 1780.4,1565.5 1797.5,1552.3 1813,1537.2 1826.6,1520.5" fill="none" stroke="#ffffff" stroke-width="68" stroke-linecap="round" stroke-linejoin="round" filter="url(#b10)"/>
<polyline points="1839.7,1570 1850.6,1557.9 1860.6,1545.1" fill="none" stroke="#f5f5f5" stroke-width="36" stroke-linecap="round" stroke-linejoin="round" filter="url(#b10)"/>
<polyline points="1828,1471.2 1833.8,1454.2 1837.8,1436.6 1839.9,1418.7 1840,1400.7 1838.2,1382.8 1834.5,1365.2 1828.9,1348 1821.6,1331.6 1812.5,1316 1801.8,1301.5 1789.6,1288.3 1776,1276.4 1761.3,1266.1" fill="none" stroke="#f2f2f2" stroke-width="18" stroke-linecap="round" stroke-linejoin="round" filter="url(#b10)"/>
<ellipse cx="1697.2" cy="1184.9" rx="80.1" ry="38.1" fill="#999999" filter="url(#b10)"/>
<ellipse cx="1701" cy="1182.2" rx="57.2" ry="27.5" fill="#888888" filter="url(#b10)"/>
<ellipse cx="1885.9" cy="1415.6" rx="22.9" ry="53.4" fill="#999999" filter="url(#b10)"/>
<ellipse cx="1884.8" cy="1411.8" rx="11.4" ry="34.3" fill="#8f8f8f" filter="url(#b10)"/>
<ellipse cx="1472.1" cy="1381.3" rx="24.8" ry="36.2" fill="#cccccc" filter="url(#b5)"/>
<ellipse cx="1485.5" cy="1297.4" rx="15.3" ry="17.2" fill="#cccccc" filter="url(#b5)"/>
<ellipse cx="1502.6" cy="1495.7" rx="15.3" ry="15.3" fill="#cccccc" filter="url(#b5)"/>
</g>
<rect x="1270" y="1073" width="793" height="674" fill="url(#dOut)"/>
<circle cx="1668.5" cy="1404.6" r="166" fill="url(#dIn)"/>
</g>
<path d="M1310 1407.2H2023" stroke="#ffe0c8" stroke-opacity="0.7" stroke-width="1.5"/>
<path d="M1574 1407.2H1764" stroke="#b0a040" stroke-opacity="0.9" stroke-width="1.5"/>
<circle cx="1702.9" cy="1572.8" r="5.5" fill="#001030" filter="url(#soft)"/>
<circle cx="1744.1" cy="1618.5" r="6" fill="#000018" filter="url(#soft)"/>
<circle cx="1565.6" cy="1460.6" r="4.5" fill="#000030" filter="url(#soft)"/>
<circle cx="1668.6" cy="1117" r="3.5" fill="#001800" filter="url(#soft)"/>
<circle cx="1435.9" cy="1472.8" r="3" fill="#806020" filter="url(#soft)"/>
<circle cx="1500.7" cy="1333.6" r="3" fill="#f0b060" filter="url(#soft)"/>
<circle cx="1834.5" cy="1512.9" r="3" fill="#ff9080" filter="url(#soft)"/>
<circle cx="1475.9" cy="1575.8" r="3.5" fill="#f0d080" filter="url(#soft)"/>
<circle cx="1395.9" cy="1351.5" r="4" fill="#30d090" filter="url(#soft)"/>
<circle cx="1920.3" cy="1282.1" r="3.5" fill="#00b0d0" filter="url(#soft)"/>
<circle cx="1865" cy="1587.2" r="3" fill="#70e0a0" filter="url(#soft)"/>
<circle cx="1737.2" cy="1137.2" r="3" fill="#30d070" filter="url(#soft)"/>
<circle cx="1702.9" cy="1572.8" r="8.5" fill="none" stroke="#fff" stroke-width="2.5" filter="url(#soft)"/>
<circle cx="1744.1" cy="1618.5" r="8.5" fill="none" stroke="#fff" stroke-width="2.5" filter="url(#soft)"/>
<path d="M1324.7 1141h5M1324.7 1230.6h5M1324.7 1322.2h5M1324.7 1501.4h5M1324.7 1593h5M1324.7 1682.6h5M1341.9 1695.9h5M1427.7 1695.9h5M1517.3 1695.9h5M1786.2 1695.9h5M1875.8 1695.9h5M1965.4 1695.9h5" stroke="#8088c8" stroke-opacity="0.8" stroke-width="2.2" filter="url(#soft)"/>
</g>
</svg>
</body></html>
